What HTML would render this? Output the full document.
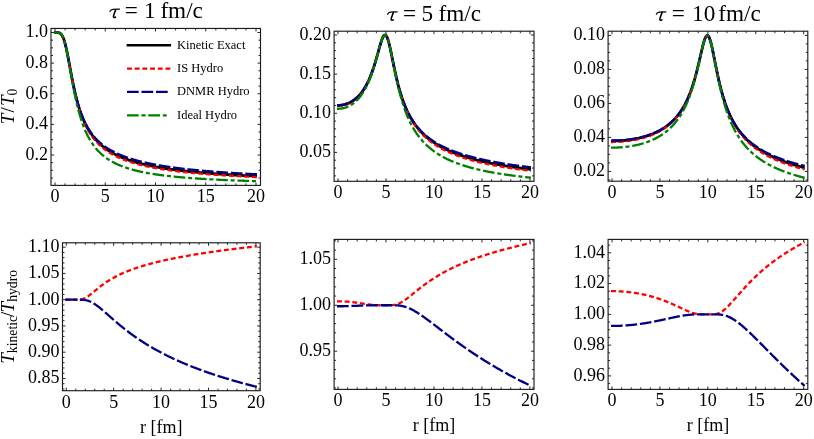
<!DOCTYPE html>
<html><head><meta charset="utf-8"><title>Gubser flow temperature profiles</title>
<style>
html,body{margin:0;padding:0;background:#fff;}
body{width:814px;height:439px;overflow:hidden;position:relative;font-family:"Liberation Serif",serif;}
svg text{font-family:"Liberation Serif",serif;}
</style></head><body>
<svg width="814" height="439" viewBox="0 0 814 439" style="position:absolute;left:0;top:0;display:block;will-change:transform">
<rect x="0" y="0" width="814" height="439" fill="#ffffff"/>
<clipPath id="c0"><rect x="51.0" y="28.45" width="209.5" height="156.95000000000002"/></clipPath>
<g clip-path="url(#c0)" fill="none" stroke-linecap="butt" stroke-linejoin="round">
<path d="M54.00 32.50 L55.00 32.50 L55.50 32.50 L56.01 32.50 L56.51 32.51 L57.01 32.52 L57.51 32.55 L58.02 32.60 L58.52 32.69 L59.02 32.83 L59.52 33.02 L60.02 33.29 L60.53 33.65 L61.03 34.12 L61.53 34.71 L62.04 35.44 L62.54 36.33 L63.04 37.38 L63.54 38.61 L64.05 40.02 L64.55 41.62 L65.05 43.39 L65.55 45.35 L66.06 47.46 L66.56 49.73 L67.06 52.12 L67.56 54.63 L68.06 57.22 L68.57 59.89 L69.07 62.60 L69.57 65.33 L70.08 68.07 L70.58 70.79 L71.08 73.49 L71.58 76.16 L72.09 78.77 L72.59 81.32 L73.09 83.81 L73.59 86.23 L74.09 88.57 L74.60 90.84 L75.10 93.04 L75.60 95.16 L76.11 97.20 L76.61 99.17 L77.11 101.07 L77.61 102.89 L78.12 104.65 L78.62 106.35 L79.12 107.97 L79.62 109.54 L80.12 111.05 L80.63 112.51 L81.13 113.91 L81.63 115.26 L82.14 116.56 L82.64 117.82 L83.14 119.03 L83.64 120.20 L84.15 121.33 L84.65 122.42 L85.15 123.47 L85.65 124.49 L86.16 125.48 L86.66 126.43 L87.16 127.36 L87.66 128.26 L88.17 129.13 L88.67 129.97 L89.17 130.79 L89.67 131.58 L90.18 132.35 L90.68 133.10 L91.18 133.82 L91.68 134.53 L92.19 135.22 L92.69 135.89 L93.19 136.54 L93.69 137.17 L94.20 137.79 L94.70 138.39 L95.20 138.98 L95.70 139.55 L96.21 140.11 L96.71 140.65 L97.21 141.19 L97.71 141.70 L98.22 142.21 L98.72 142.71 L99.22 143.19 L99.72 143.66 L100.22 144.12 L100.73 144.58 L101.23 145.02 L101.73 145.45 L102.24 145.87 L102.74 146.29 L103.24 146.69 L103.74 147.09 L104.25 147.48 L104.75 147.86 L105.25 148.23 L105.75 148.60 L106.26 148.96 L106.76 149.31 L107.26 149.65 L107.76 149.99 L108.27 150.33 L108.77 150.65 L109.27 150.97 L109.77 151.29 L110.28 151.59 L110.78 151.90 L111.28 152.19 L111.78 152.49 L112.28 152.77 L112.79 153.06 L113.29 153.33 L113.79 153.61 L114.30 153.87 L114.80 154.14 L115.30 154.40 L115.80 154.65 L116.31 154.90 L116.81 155.15 L117.31 155.39 L117.81 155.63 L118.32 155.86 L118.82 156.10 L119.32 156.32 L119.82 156.55 L120.33 156.77 L120.83 156.99 L121.33 157.20 L121.83 157.41 L122.34 157.62 L122.84 157.82 L123.34 158.03 L123.84 158.22 L124.35 158.42 L124.85 158.61 L125.35 158.80 L125.85 158.99 L126.36 159.18 L126.86 159.36 L127.36 159.54 L127.86 159.72 L128.37 159.89 L128.87 160.07 L129.37 160.24 L129.87 160.40 L130.38 160.57 L130.88 160.73 L131.38 160.90 L131.88 161.06 L132.38 161.21 L132.89 161.37 L133.39 161.52 L133.89 161.67 L134.40 161.82 L134.90 161.97 L135.40 162.12 L135.90 162.26 L136.41 162.41 L136.91 162.55 L137.41 162.68 L137.91 162.82 L138.42 162.96 L138.92 163.09 L139.42 163.22 L139.92 163.36 L140.43 163.49 L140.93 163.61 L141.43 163.74 L141.93 163.86 L142.44 163.99 L142.94 164.11 L143.44 164.23 L143.94 164.35 L144.44 164.47 L144.95 164.59 L145.45 164.70 L145.95 164.82 L146.45 164.93 L146.96 165.04 L147.46 165.15 L147.96 165.26 L148.47 165.37 L148.97 165.48 L149.47 165.58 L149.97 165.69 L150.48 165.79 L150.98 165.89 L151.48 166.00 L151.98 166.10 L152.49 166.20 L152.99 166.29 L153.49 166.39 L153.99 166.49 L154.50 166.58 L155.00 166.68 L155.50 166.77 L156.00 166.86 L156.51 166.96 L157.01 167.05 L157.51 167.14 L158.01 167.23 L158.52 167.32 L159.02 167.40 L159.52 167.49 L160.02 167.58 L160.53 167.66 L161.03 167.75 L161.53 167.83 L162.03 167.91 L162.54 167.99 L163.04 168.07 L163.54 168.15 L164.04 168.23 L164.55 168.31 L165.05 168.39 L165.55 168.47 L166.05 168.55 L166.56 168.62 L167.06 168.70 L167.56 168.77 L168.06 168.85 L168.56 168.92 L169.07 168.99 L169.57 169.07 L170.07 169.14 L170.57 169.21 L171.08 169.28 L171.58 169.35 L172.08 169.42 L172.59 169.49 L173.09 169.55 L173.59 169.62 L174.09 169.69 L174.60 169.75 L175.10 169.82 L175.60 169.89 L176.10 169.95 L176.61 170.01 L177.11 170.08 L177.61 170.14 L178.11 170.20 L178.62 170.27 L179.12 170.33 L179.62 170.39 L180.12 170.45 L180.62 170.51 L181.13 170.57 L181.63 170.63 L182.13 170.69 L182.64 170.75 L183.14 170.80 L183.64 170.86 L184.14 170.92 L184.65 170.97 L185.15 171.03 L185.65 171.09 L186.15 171.14 L186.66 171.20 L187.16 171.25 L187.66 171.30 L188.16 171.36 L188.67 171.41 L189.17 171.46 L189.67 171.52 L190.17 171.57 L190.68 171.62 L191.18 171.67 L191.68 171.72 L192.18 171.77 L192.69 171.82 L193.19 171.87 L193.69 171.92 L194.19 171.97 L194.70 172.02 L195.20 172.07 L195.70 172.12 L196.20 172.16 L196.71 172.21 L197.21 172.26 L197.71 172.31 L198.21 172.35 L198.72 172.40 L199.22 172.44 L199.72 172.49 L200.22 172.53 L200.73 172.58 L201.23 172.62 L201.73 172.67 L202.23 172.71 L202.74 172.75 L203.24 172.80 L203.74 172.84 L204.24 172.88 L204.75 172.93 L205.25 172.97 L205.75 173.01 L206.25 173.05 L206.76 173.09 L207.26 173.13 L207.76 173.18 L208.26 173.22 L208.77 173.26 L209.27 173.30 L209.77 173.34 L210.27 173.38 L210.78 173.41 L211.28 173.45 L211.78 173.49 L212.28 173.53 L212.79 173.57 L213.29 173.61 L213.79 173.64 L214.29 173.68 L214.80 173.72 L215.30 173.76 L215.80 173.79 L216.30 173.83 L216.81 173.87 L217.31 173.90 L217.81 173.94 L218.31 173.97 L218.82 174.01 L219.32 174.04 L219.82 174.08 L220.32 174.11 L220.83 174.15 L221.33 174.18 L221.83 174.22 L222.33 174.25 L222.84 174.29 L223.34 174.32 L223.84 174.35 L224.34 174.39 L224.85 174.42 L225.35 174.45 L225.85 174.48 L226.35 174.52 L226.86 174.55 L227.36 174.58 L227.86 174.61 L228.36 174.64 L228.87 174.68 L229.37 174.71 L229.87 174.74 L230.37 174.77 L230.88 174.80 L231.38 174.83 L231.88 174.86 L232.38 174.89 L232.89 174.92 L233.39 174.95 L233.89 174.98 L234.39 175.01 L234.90 175.04 L235.40 175.07 L235.90 175.10 L236.40 175.13 L236.91 175.16 L237.41 175.19 L237.91 175.21 L238.41 175.24 L238.92 175.27 L239.42 175.30 L239.92 175.33 L240.42 175.35 L240.93 175.38 L241.43 175.41 L241.93 175.44 L242.43 175.46 L242.94 175.49 L243.44 175.52 L243.94 175.54 L244.44 175.57 L244.95 175.60 L245.45 175.62 L245.95 175.65 L246.45 175.68 L246.96 175.70 L247.46 175.73 L247.96 175.75 L248.46 175.78 L248.97 175.80 L249.47 175.83 L249.97 175.85 L250.47 175.88 L250.98 175.90 L251.48 175.93 L251.98 175.95 L252.48 175.98 L252.99 176.00 L253.49 176.03 L253.99 176.05 L254.49 176.07 L255.00 176.10 L255.50 176.12 L256.00 176.15 L257.00 176.19" stroke="#000000" stroke-width="2.8"/>
<path d="M54.00 32.50 L55.00 32.50 L55.50 32.50 L56.01 32.50 L56.51 32.51 L57.01 32.52 L57.51 32.55 L58.02 32.60 L58.52 32.69 L59.02 32.83 L59.52 33.02 L60.02 33.29 L60.53 33.65 L61.03 34.12 L61.53 34.71 L62.04 35.44 L62.54 36.33 L63.04 37.38 L63.54 38.61 L64.05 40.02 L64.55 41.62 L65.05 43.40 L65.55 45.35 L66.06 47.47 L66.56 49.73 L67.06 52.13 L67.56 54.64 L68.06 57.24 L68.57 59.91 L69.07 62.63 L69.57 65.37 L70.08 68.12 L70.58 70.87 L71.08 73.58 L71.58 76.27 L72.09 78.90 L72.59 81.48 L73.09 83.99 L73.59 86.44 L74.09 88.82 L74.60 91.12 L75.10 93.35 L75.60 95.51 L76.11 97.59 L76.61 99.59 L77.11 101.53 L77.61 103.39 L78.12 105.19 L78.62 106.92 L79.12 108.59 L79.62 110.19 L80.12 111.74 L80.63 113.23 L81.13 114.67 L81.63 116.06 L82.14 117.39 L82.64 118.68 L83.14 119.92 L83.64 121.13 L84.15 122.29 L84.65 123.41 L85.15 124.49 L85.65 125.54 L86.16 126.55 L86.66 127.53 L87.16 128.48 L87.66 129.40 L88.17 130.29 L88.67 131.16 L89.17 131.99 L89.67 132.81 L90.18 133.60 L90.68 134.36 L91.18 135.11 L91.68 135.83 L92.19 136.53 L92.69 137.22 L93.19 137.88 L93.69 138.53 L94.20 139.16 L94.70 139.77 L95.20 140.37 L95.70 140.95 L96.21 141.52 L96.71 142.07 L97.21 142.61 L97.71 143.14 L98.22 143.65 L98.72 144.16 L99.22 144.65 L99.72 145.12 L100.22 145.59 L100.73 146.05 L101.23 146.50 L101.73 146.93 L102.24 147.36 L102.74 147.78 L103.24 148.19 L103.74 148.59 L104.25 148.98 L104.75 149.36 L105.25 149.74 L105.75 150.11 L106.26 150.47 L106.76 150.82 L107.26 151.17 L107.76 151.51 L108.27 151.84 L108.77 152.17 L109.27 152.49 L109.77 152.80 L110.28 153.11 L110.78 153.41 L111.28 153.71 L111.78 154.00 L112.28 154.29 L112.79 154.57 L113.29 154.85 L113.79 155.12 L114.30 155.39 L114.80 155.65 L115.30 155.91 L115.80 156.16 L116.31 156.41 L116.81 156.65 L117.31 156.90 L117.81 157.13 L118.32 157.37 L118.82 157.60 L119.32 157.82 L119.82 158.04 L120.33 158.26 L120.83 158.48 L121.33 158.69 L121.83 158.90 L122.34 159.10 L122.84 159.31 L123.34 159.51 L123.84 159.70 L124.35 159.90 L124.85 160.09 L125.35 160.27 L125.85 160.46 L126.36 160.64 L126.86 160.82 L127.36 161.00 L127.86 161.17 L128.37 161.35 L128.87 161.52 L129.37 161.69 L129.87 161.85 L130.38 162.01 L130.88 162.17 L131.38 162.33 L131.88 162.49 L132.38 162.65 L132.89 162.80 L133.39 162.95 L133.89 163.10 L134.40 163.24 L134.90 163.39 L135.40 163.53 L135.90 163.67 L136.41 163.81 L136.91 163.95 L137.41 164.09 L137.91 164.22 L138.42 164.35 L138.92 164.48 L139.42 164.61 L139.92 164.74 L140.43 164.87 L140.93 164.99 L141.43 165.12 L141.93 165.24 L142.44 165.36 L142.94 165.48 L143.44 165.60 L143.94 165.71 L144.44 165.83 L144.95 165.94 L145.45 166.05 L145.95 166.16 L146.45 166.27 L146.96 166.38 L147.46 166.49 L147.96 166.60 L148.47 166.70 L148.97 166.81 L149.47 166.91 L149.97 167.01 L150.48 167.11 L150.98 167.21 L151.48 167.31 L151.98 167.41 L152.49 167.50 L152.99 167.60 L153.49 167.69 L153.99 167.79 L154.50 167.88 L155.00 167.97 L155.50 168.06 L156.00 168.15 L156.51 168.24 L157.01 168.33 L157.51 168.42 L158.01 168.50 L158.52 168.59 L159.02 168.67 L159.52 168.76 L160.02 168.84 L160.53 168.92 L161.03 169.00 L161.53 169.08 L162.03 169.16 L162.54 169.24 L163.04 169.32 L163.54 169.40 L164.04 169.48 L164.55 169.55 L165.05 169.63 L165.55 169.70 L166.05 169.78 L166.56 169.85 L167.06 169.92 L167.56 170.00 L168.06 170.07 L168.56 170.14 L169.07 170.21 L169.57 170.28 L170.07 170.35 L170.57 170.41 L171.08 170.48 L171.58 170.55 L172.08 170.62 L172.59 170.68 L173.09 170.75 L173.59 170.81 L174.09 170.88 L174.60 170.94 L175.10 171.00 L175.60 171.07 L176.10 171.13 L176.61 171.19 L177.11 171.25 L177.61 171.31 L178.11 171.37 L178.62 171.43 L179.12 171.49 L179.62 171.55 L180.12 171.61 L180.62 171.66 L181.13 171.72 L181.63 171.78 L182.13 171.84 L182.64 171.89 L183.14 171.95 L183.64 172.00 L184.14 172.06 L184.65 172.11 L185.15 172.16 L185.65 172.22 L186.15 172.27 L186.66 172.32 L187.16 172.37 L187.66 172.43 L188.16 172.48 L188.67 172.53 L189.17 172.58 L189.67 172.63 L190.17 172.68 L190.68 172.73 L191.18 172.78 L191.68 172.83 L192.18 172.87 L192.69 172.92 L193.19 172.97 L193.69 173.02 L194.19 173.06 L194.70 173.11 L195.20 173.16 L195.70 173.20 L196.20 173.25 L196.71 173.29 L197.21 173.34 L197.71 173.38 L198.21 173.43 L198.72 173.47 L199.22 173.51 L199.72 173.56 L200.22 173.60 L200.73 173.64 L201.23 173.68 L201.73 173.73 L202.23 173.77 L202.74 173.81 L203.24 173.85 L203.74 173.89 L204.24 173.93 L204.75 173.97 L205.25 174.01 L205.75 174.05 L206.25 174.09 L206.76 174.13 L207.26 174.17 L207.76 174.21 L208.26 174.25 L208.77 174.29 L209.27 174.32 L209.77 174.36 L210.27 174.40 L210.78 174.44 L211.28 174.47 L211.78 174.51 L212.28 174.55 L212.79 174.58 L213.29 174.62 L213.79 174.66 L214.29 174.69 L214.80 174.73 L215.30 174.76 L215.80 174.80 L216.30 174.83 L216.81 174.87 L217.31 174.90 L217.81 174.93 L218.31 174.97 L218.82 175.00 L219.32 175.04 L219.82 175.07 L220.32 175.10 L220.83 175.13 L221.33 175.17 L221.83 175.20 L222.33 175.23 L222.84 175.26 L223.34 175.30 L223.84 175.33 L224.34 175.36 L224.85 175.39 L225.35 175.42 L225.85 175.45 L226.35 175.48 L226.86 175.51 L227.36 175.54 L227.86 175.57 L228.36 175.60 L228.87 175.63 L229.37 175.66 L229.87 175.69 L230.37 175.72 L230.88 175.75 L231.38 175.78 L231.88 175.81 L232.38 175.84 L232.89 175.87 L233.39 175.89 L233.89 175.92 L234.39 175.95 L234.90 175.98 L235.40 176.01 L235.90 176.03 L236.40 176.06 L236.91 176.09 L237.41 176.11 L237.91 176.14 L238.41 176.17 L238.92 176.20 L239.42 176.22 L239.92 176.25 L240.42 176.27 L240.93 176.30 L241.43 176.33 L241.93 176.35 L242.43 176.38 L242.94 176.40 L243.44 176.43 L243.94 176.45 L244.44 176.48 L244.95 176.50 L245.45 176.53 L245.95 176.55 L246.45 176.58 L246.96 176.60 L247.46 176.63 L247.96 176.65 L248.46 176.67 L248.97 176.70 L249.47 176.72 L249.97 176.75 L250.47 176.77 L250.98 176.79 L251.48 176.82 L251.98 176.84 L252.48 176.86 L252.99 176.88 L253.49 176.91 L253.99 176.93 L254.49 176.95 L255.00 176.98 L255.50 177.00 L256.00 177.02 L257.00 177.06" stroke="#ff0000" stroke-width="2.3" stroke-dasharray="4.9 2.8"/>
<path d="M54.00 32.50 L55.00 32.50 L55.50 32.50 L56.01 32.50 L56.51 32.51 L57.01 32.52 L57.51 32.55 L58.02 32.60 L58.52 32.69 L59.02 32.83 L59.52 33.02 L60.02 33.29 L60.53 33.65 L61.03 34.12 L61.53 34.71 L62.04 35.44 L62.54 36.33 L63.04 37.38 L63.54 38.61 L64.05 40.02 L64.55 41.62 L65.05 43.39 L65.55 45.35 L66.06 47.46 L66.56 49.73 L67.06 52.12 L67.56 54.63 L68.06 57.22 L68.57 59.89 L69.07 62.59 L69.57 65.32 L70.08 68.06 L70.58 70.79 L71.08 73.48 L71.58 76.14 L72.09 78.75 L72.59 81.30 L73.09 83.78 L73.59 86.19 L74.09 88.53 L74.60 90.79 L75.10 92.97 L75.60 95.08 L76.11 97.10 L76.61 99.06 L77.11 100.94 L77.61 102.75 L78.12 104.49 L78.62 106.16 L79.12 107.77 L79.62 109.31 L80.12 110.80 L80.63 112.23 L81.13 113.61 L81.63 114.93 L82.14 116.21 L82.64 117.43 L83.14 118.62 L83.64 119.76 L84.15 120.86 L84.65 121.92 L85.15 122.95 L85.65 123.94 L86.16 124.90 L86.66 125.82 L87.16 126.72 L87.66 127.59 L88.17 128.43 L88.67 129.24 L89.17 130.03 L89.67 130.79 L90.18 131.54 L90.68 132.26 L91.18 132.96 L91.68 133.64 L92.19 134.30 L92.69 134.94 L93.19 135.56 L93.69 136.17 L94.20 136.76 L94.70 137.34 L95.20 137.90 L95.70 138.45 L96.21 138.98 L96.71 139.50 L97.21 140.01 L97.71 140.51 L98.22 140.99 L98.72 141.46 L99.22 141.92 L99.72 142.38 L100.22 142.82 L100.73 143.25 L101.23 143.67 L101.73 144.08 L102.24 144.49 L102.74 144.88 L103.24 145.27 L103.74 145.65 L104.25 146.02 L104.75 146.38 L105.25 146.74 L105.75 147.09 L106.26 147.43 L106.76 147.76 L107.26 148.09 L107.76 148.42 L108.27 148.73 L108.77 149.05 L109.27 149.35 L109.77 149.65 L110.28 149.95 L110.78 150.24 L111.28 150.52 L111.78 150.80 L112.28 151.07 L112.79 151.34 L113.29 151.61 L113.79 151.87 L114.30 152.13 L114.80 152.38 L115.30 152.63 L115.80 152.87 L116.31 153.11 L116.81 153.35 L117.31 153.58 L117.81 153.81 L118.32 154.04 L118.82 154.26 L119.32 154.48 L119.82 154.69 L120.33 154.91 L120.83 155.12 L121.33 155.32 L121.83 155.52 L122.34 155.73 L122.84 155.92 L123.34 156.12 L123.84 156.31 L124.35 156.50 L124.85 156.68 L125.35 156.87 L125.85 157.05 L126.36 157.23 L126.86 157.41 L127.36 157.58 L127.86 157.75 L128.37 157.92 L128.87 158.09 L129.37 158.25 L129.87 158.42 L130.38 158.58 L130.88 158.74 L131.38 158.90 L131.88 159.05 L132.38 159.20 L132.89 159.35 L133.39 159.50 L133.89 159.65 L134.40 159.80 L134.90 159.94 L135.40 160.08 L135.90 160.22 L136.41 160.36 L136.91 160.50 L137.41 160.64 L137.91 160.77 L138.42 160.90 L138.92 161.03 L139.42 161.16 L139.92 161.29 L140.43 161.42 L140.93 161.54 L141.43 161.67 L141.93 161.79 L142.44 161.91 L142.94 162.03 L143.44 162.15 L143.94 162.27 L144.44 162.38 L144.95 162.50 L145.45 162.61 L145.95 162.73 L146.45 162.84 L146.96 162.95 L147.46 163.06 L147.96 163.16 L148.47 163.27 L148.97 163.38 L149.47 163.48 L149.97 163.59 L150.48 163.69 L150.98 163.79 L151.48 163.89 L151.98 163.99 L152.49 164.09 L152.99 164.19 L153.49 164.28 L153.99 164.38 L154.50 164.47 L155.00 164.57 L155.50 164.66 L156.00 164.75 L156.51 164.84 L157.01 164.93 L157.51 165.02 L158.01 165.11 L158.52 165.20 L159.02 165.29 L159.52 165.37 L160.02 165.46 L160.53 165.55 L161.03 165.63 L161.53 165.71 L162.03 165.80 L162.54 165.88 L163.04 165.96 L163.54 166.04 L164.04 166.12 L164.55 166.20 L165.05 166.28 L165.55 166.35 L166.05 166.43 L166.56 166.51 L167.06 166.58 L167.56 166.66 L168.06 166.73 L168.56 166.81 L169.07 166.88 L169.57 166.95 L170.07 167.02 L170.57 167.10 L171.08 167.17 L171.58 167.24 L172.08 167.31 L172.59 167.38 L173.09 167.44 L173.59 167.51 L174.09 167.58 L174.60 167.65 L175.10 167.71 L175.60 167.78 L176.10 167.85 L176.61 167.91 L177.11 167.97 L177.61 168.04 L178.11 168.10 L178.62 168.16 L179.12 168.23 L179.62 168.29 L180.12 168.35 L180.62 168.41 L181.13 168.47 L181.63 168.53 L182.13 168.59 L182.64 168.65 L183.14 168.71 L183.64 168.77 L184.14 168.83 L184.65 168.88 L185.15 168.94 L185.65 169.00 L186.15 169.05 L186.66 169.11 L187.16 169.17 L187.66 169.22 L188.16 169.28 L188.67 169.33 L189.17 169.38 L189.67 169.44 L190.17 169.49 L190.68 169.54 L191.18 169.60 L191.68 169.65 L192.18 169.70 L192.69 169.75 L193.19 169.80 L193.69 169.85 L194.19 169.90 L194.70 169.95 L195.20 170.00 L195.70 170.05 L196.20 170.10 L196.71 170.15 L197.21 170.20 L197.71 170.25 L198.21 170.29 L198.72 170.34 L199.22 170.39 L199.72 170.43 L200.22 170.48 L200.73 170.53 L201.23 170.57 L201.73 170.62 L202.23 170.66 L202.74 170.71 L203.24 170.75 L203.74 170.80 L204.24 170.84 L204.75 170.89 L205.25 170.93 L205.75 170.97 L206.25 171.02 L206.76 171.06 L207.26 171.10 L207.76 171.14 L208.26 171.19 L208.77 171.23 L209.27 171.27 L209.77 171.31 L210.27 171.35 L210.78 171.39 L211.28 171.43 L211.78 171.47 L212.28 171.51 L212.79 171.55 L213.29 171.59 L213.79 171.63 L214.29 171.67 L214.80 171.71 L215.30 171.75 L215.80 171.79 L216.30 171.82 L216.81 171.86 L217.31 171.90 L217.81 171.94 L218.31 171.97 L218.82 172.01 L219.32 172.05 L219.82 172.08 L220.32 172.12 L220.83 172.16 L221.33 172.19 L221.83 172.23 L222.33 172.26 L222.84 172.30 L223.34 172.33 L223.84 172.37 L224.34 172.40 L224.85 172.44 L225.35 172.47 L225.85 172.51 L226.35 172.54 L226.86 172.58 L227.36 172.61 L227.86 172.64 L228.36 172.68 L228.87 172.71 L229.37 172.74 L229.87 172.77 L230.37 172.81 L230.88 172.84 L231.38 172.87 L231.88 172.90 L232.38 172.94 L232.89 172.97 L233.39 173.00 L233.89 173.03 L234.39 173.06 L234.90 173.09 L235.40 173.12 L235.90 173.15 L236.40 173.18 L236.91 173.21 L237.41 173.25 L237.91 173.28 L238.41 173.31 L238.92 173.33 L239.42 173.36 L239.92 173.39 L240.42 173.42 L240.93 173.45 L241.43 173.48 L241.93 173.51 L242.43 173.54 L242.94 173.57 L243.44 173.60 L243.94 173.62 L244.44 173.65 L244.95 173.68 L245.45 173.71 L245.95 173.74 L246.45 173.76 L246.96 173.79 L247.46 173.82 L247.96 173.85 L248.46 173.87 L248.97 173.90 L249.47 173.93 L249.97 173.95 L250.47 173.98 L250.98 174.01 L251.48 174.03 L251.98 174.06 L252.48 174.08 L252.99 174.11 L253.49 174.14 L253.99 174.16 L254.49 174.19 L255.00 174.21 L255.50 174.24 L256.00 174.26 L257.00 174.31" stroke="#000084" stroke-width="2.3" stroke-dasharray="11.7 2.8"/>
<path d="M54.00 32.50 L55.00 32.50 L55.50 32.50 L56.01 32.50 L56.51 32.51 L57.01 32.52 L57.51 32.55 L58.02 32.60 L58.52 32.69 L59.02 32.83 L59.52 33.02 L60.02 33.29 L60.53 33.65 L61.03 34.12 L61.53 34.71 L62.04 35.45 L62.54 36.34 L63.04 37.40 L63.54 38.63 L64.05 40.06 L64.55 41.67 L65.05 43.48 L65.55 45.46 L66.06 47.62 L66.56 49.94 L67.06 52.40 L67.56 54.99 L68.06 57.67 L68.57 60.45 L69.07 63.28 L69.57 66.15 L70.08 69.04 L70.58 71.93 L71.08 74.81 L71.58 77.66 L72.09 80.47 L72.59 83.23 L73.09 85.94 L73.59 88.58 L74.09 91.15 L74.60 93.65 L75.10 96.08 L75.60 98.43 L76.11 100.70 L76.61 102.90 L77.11 105.02 L77.61 107.07 L78.12 109.05 L78.62 110.96 L79.12 112.80 L79.62 114.57 L80.12 116.28 L80.63 117.92 L81.13 119.51 L81.63 121.04 L82.14 122.52 L82.64 123.94 L83.14 125.31 L83.64 126.64 L84.15 127.92 L84.65 129.15 L85.15 130.34 L85.65 131.49 L86.16 132.60 L86.66 133.68 L87.16 134.72 L87.66 135.72 L88.17 136.69 L88.67 137.64 L89.17 138.55 L89.67 139.43 L90.18 140.28 L90.68 141.11 L91.18 141.91 L91.68 142.69 L92.19 143.45 L92.69 144.18 L93.19 144.89 L93.69 145.58 L94.20 146.26 L94.70 146.91 L95.20 147.54 L95.70 148.16 L96.21 148.76 L96.71 149.34 L97.21 149.91 L97.71 150.46 L98.22 151.00 L98.72 151.52 L99.22 152.03 L99.72 152.53 L100.22 153.01 L100.73 153.49 L101.23 153.95 L101.73 154.40 L102.24 154.83 L102.74 155.26 L103.24 155.68 L103.74 156.09 L104.25 156.49 L104.75 156.88 L105.25 157.26 L105.75 157.63 L106.26 157.99 L106.76 158.35 L107.26 158.69 L107.76 159.03 L108.27 159.36 L108.77 159.69 L109.27 160.01 L109.77 160.32 L110.28 160.62 L110.78 160.92 L111.28 161.22 L111.78 161.50 L112.28 161.78 L112.79 162.06 L113.29 162.33 L113.79 162.59 L114.30 162.85 L114.80 163.10 L115.30 163.35 L115.80 163.60 L116.31 163.84 L116.81 164.07 L117.31 164.30 L117.81 164.53 L118.32 164.75 L118.82 164.97 L119.32 165.18 L119.82 165.40 L120.33 165.60 L120.83 165.81 L121.33 166.00 L121.83 166.20 L122.34 166.39 L122.84 166.58 L123.34 166.77 L123.84 166.95 L124.35 167.13 L124.85 167.31 L125.35 167.48 L125.85 167.65 L126.36 167.82 L126.86 167.99 L127.36 168.15 L127.86 168.31 L128.37 168.47 L128.87 168.62 L129.37 168.78 L129.87 168.93 L130.38 169.07 L130.88 169.22 L131.38 169.36 L131.88 169.51 L132.38 169.64 L132.89 169.78 L133.39 169.92 L133.89 170.05 L134.40 170.18 L134.90 170.31 L135.40 170.44 L135.90 170.56 L136.41 170.69 L136.91 170.81 L137.41 170.93 L137.91 171.05 L138.42 171.16 L138.92 171.28 L139.42 171.39 L139.92 171.51 L140.43 171.62 L140.93 171.73 L141.43 171.83 L141.93 171.94 L142.44 172.04 L142.94 172.15 L143.44 172.25 L143.94 172.35 L144.44 172.45 L144.95 172.55 L145.45 172.64 L145.95 172.74 L146.45 172.83 L146.96 172.93 L147.46 173.02 L147.96 173.11 L148.47 173.20 L148.97 173.29 L149.47 173.37 L149.97 173.46 L150.48 173.55 L150.98 173.63 L151.48 173.71 L151.98 173.80 L152.49 173.88 L152.99 173.96 L153.49 174.04 L153.99 174.11 L154.50 174.19 L155.00 174.27 L155.50 174.34 L156.00 174.42 L156.51 174.49 L157.01 174.57 L157.51 174.64 L158.01 174.71 L158.52 174.78 L159.02 174.85 L159.52 174.92 L160.02 174.99 L160.53 175.05 L161.03 175.12 L161.53 175.19 L162.03 175.25 L162.54 175.32 L163.04 175.38 L163.54 175.44 L164.04 175.51 L164.55 175.57 L165.05 175.63 L165.55 175.69 L166.05 175.75 L166.56 175.81 L167.06 175.87 L167.56 175.93 L168.06 175.98 L168.56 176.04 L169.07 176.10 L169.57 176.15 L170.07 176.21 L170.57 176.26 L171.08 176.32 L171.58 176.37 L172.08 176.42 L172.59 176.47 L173.09 176.53 L173.59 176.58 L174.09 176.63 L174.60 176.68 L175.10 176.73 L175.60 176.78 L176.10 176.83 L176.61 176.88 L177.11 176.92 L177.61 176.97 L178.11 177.02 L178.62 177.06 L179.12 177.11 L179.62 177.16 L180.12 177.20 L180.62 177.25 L181.13 177.29 L181.63 177.34 L182.13 177.38 L182.64 177.42 L183.14 177.46 L183.64 177.51 L184.14 177.55 L184.65 177.59 L185.15 177.63 L185.65 177.67 L186.15 177.71 L186.66 177.75 L187.16 177.79 L187.66 177.83 L188.16 177.87 L188.67 177.91 L189.17 177.95 L189.67 177.99 L190.17 178.03 L190.68 178.06 L191.18 178.10 L191.68 178.14 L192.18 178.17 L192.69 178.21 L193.19 178.25 L193.69 178.28 L194.19 178.32 L194.70 178.35 L195.20 178.39 L195.70 178.42 L196.20 178.46 L196.71 178.49 L197.21 178.52 L197.71 178.56 L198.21 178.59 L198.72 178.62 L199.22 178.65 L199.72 178.69 L200.22 178.72 L200.73 178.75 L201.23 178.78 L201.73 178.81 L202.23 178.84 L202.74 178.88 L203.24 178.91 L203.74 178.94 L204.24 178.97 L204.75 179.00 L205.25 179.03 L205.75 179.05 L206.25 179.08 L206.76 179.11 L207.26 179.14 L207.76 179.17 L208.26 179.20 L208.77 179.23 L209.27 179.25 L209.77 179.28 L210.27 179.31 L210.78 179.34 L211.28 179.36 L211.78 179.39 L212.28 179.42 L212.79 179.44 L213.29 179.47 L213.79 179.49 L214.29 179.52 L214.80 179.55 L215.30 179.57 L215.80 179.60 L216.30 179.62 L216.81 179.65 L217.31 179.67 L217.81 179.70 L218.31 179.72 L218.82 179.74 L219.32 179.77 L219.82 179.79 L220.32 179.82 L220.83 179.84 L221.33 179.86 L221.83 179.88 L222.33 179.91 L222.84 179.93 L223.34 179.95 L223.84 179.98 L224.34 180.00 L224.85 180.02 L225.35 180.04 L225.85 180.06 L226.35 180.09 L226.86 180.11 L227.36 180.13 L227.86 180.15 L228.36 180.17 L228.87 180.19 L229.37 180.21 L229.87 180.23 L230.37 180.25 L230.88 180.28 L231.38 180.30 L231.88 180.32 L232.38 180.34 L232.89 180.36 L233.39 180.38 L233.89 180.40 L234.39 180.41 L234.90 180.43 L235.40 180.45 L235.90 180.47 L236.40 180.49 L236.91 180.51 L237.41 180.53 L237.91 180.55 L238.41 180.57 L238.92 180.58 L239.42 180.60 L239.92 180.62 L240.42 180.64 L240.93 180.66 L241.43 180.68 L241.93 180.69 L242.43 180.71 L242.94 180.73 L243.44 180.75 L243.94 180.76 L244.44 180.78 L244.95 180.80 L245.45 180.81 L245.95 180.83 L246.45 180.85 L246.96 180.86 L247.46 180.88 L247.96 180.90 L248.46 180.91 L248.97 180.93 L249.47 180.95 L249.97 180.96 L250.47 180.98 L250.98 180.99 L251.48 181.01 L251.98 181.03 L252.48 181.04 L252.99 181.06 L253.49 181.07 L253.99 181.09 L254.49 181.10 L255.00 181.12 L255.50 181.13 L256.00 181.15 L257.00 181.18" stroke="#008000" stroke-width="2.3" stroke-dasharray="11.7 2.8 4 2.8"/>
</g>
<path d="M55.00 185.4 v-3.0 M55.00 28.45 v3.0 M65.05 185.4 v-2.0 M65.05 28.45 v2.0 M75.10 185.4 v-2.0 M75.10 28.45 v2.0 M85.15 185.4 v-2.0 M85.15 28.45 v2.0 M95.20 185.4 v-2.0 M95.20 28.45 v2.0 M105.25 185.4 v-3.0 M105.25 28.45 v3.0 M115.30 185.4 v-2.0 M115.30 28.45 v2.0 M125.35 185.4 v-2.0 M125.35 28.45 v2.0 M135.40 185.4 v-2.0 M135.40 28.45 v2.0 M145.45 185.4 v-2.0 M145.45 28.45 v2.0 M155.50 185.4 v-3.0 M155.50 28.45 v3.0 M165.55 185.4 v-2.0 M165.55 28.45 v2.0 M175.60 185.4 v-2.0 M175.60 28.45 v2.0 M185.65 185.4 v-2.0 M185.65 28.45 v2.0 M195.70 185.4 v-2.0 M195.70 28.45 v2.0 M205.75 185.4 v-3.0 M205.75 28.45 v3.0 M215.80 185.4 v-2.0 M215.80 28.45 v2.0 M225.85 185.4 v-2.0 M225.85 28.45 v2.0 M235.90 185.4 v-2.0 M235.90 28.45 v2.0 M245.95 185.4 v-2.0 M245.95 28.45 v2.0 M256.00 185.4 v-3.0 M256.00 28.45 v3.0 M51.0 177.97 h2.0 M260.5 177.97 h-2.0 M51.0 170.31 h2.0 M260.5 170.31 h-2.0 M51.0 162.66 h2.0 M260.5 162.66 h-2.0 M51.0 155.00 h3.0 M260.5 155.00 h-3.0 M51.0 147.34 h2.0 M260.5 147.34 h-2.0 M51.0 139.69 h2.0 M260.5 139.69 h-2.0 M51.0 132.03 h2.0 M260.5 132.03 h-2.0 M51.0 124.38 h3.0 M260.5 124.38 h-3.0 M51.0 116.72 h2.0 M260.5 116.72 h-2.0 M51.0 109.06 h2.0 M260.5 109.06 h-2.0 M51.0 101.41 h2.0 M260.5 101.41 h-2.0 M51.0 93.75 h3.0 M260.5 93.75 h-3.0 M51.0 86.09 h2.0 M260.5 86.09 h-2.0 M51.0 78.44 h2.0 M260.5 78.44 h-2.0 M51.0 70.78 h2.0 M260.5 70.78 h-2.0 M51.0 63.12 h3.0 M260.5 63.12 h-3.0 M51.0 55.47 h2.0 M260.5 55.47 h-2.0 M51.0 47.81 h2.0 M260.5 47.81 h-2.0 M51.0 40.16 h2.0 M260.5 40.16 h-2.0 M51.0 32.50 h3.0 M260.5 32.50 h-3.0" stroke="#1c1c1c" stroke-width="0.95" fill="none"/>
<rect x="51.0" y="28.45" width="209.50" height="156.95" fill="none" stroke="#1c1c1c" stroke-width="1.15"/>
<g font-family="Liberation Serif, serif" font-size="18" fill="#000"><text x="48.0" y="159.80" text-anchor="end">0.2</text><text x="48.0" y="129.18" text-anchor="end">0.4</text><text x="48.0" y="98.55" text-anchor="end">0.6</text><text x="48.0" y="67.92" text-anchor="end">0.8</text><text x="48.0" y="37.30" text-anchor="end">1.0</text><text x="55.00" y="201.90" text-anchor="middle">0</text><text x="105.25" y="201.90" text-anchor="middle">5</text><text x="155.50" y="201.90" text-anchor="middle">10</text><text x="205.75" y="201.90" text-anchor="middle">15</text><text x="256.00" y="201.90" text-anchor="middle">20</text></g>
<g transform="translate(109.80,18.15)" fill="none" stroke="#000" stroke-linecap="round" stroke-linejoin="round"><path d="M0.1 -6.6 C0.7 -8.0 1.6 -8.7 3.0 -8.75 L9.7 -9.05" stroke-width="1.15"/><path d="M5.9 -8.7 C5.3 -6.6 4.3 -4.2 3.75 -2.3 C3.3 -0.7 4.3 -0.1 5.7 -1.0" stroke-width="1.55"/></g>
<text x="202.90" y="18.15" text-anchor="end" word-spacing="-0.3" font-family="Liberation Serif, serif" font-size="23.2" fill="#000">= <tspan dx="0.6">1</tspan><tspan dx="-0.6"> fm/c</tspan></text>
<clipPath id="c1"><rect x="334.1" y="31.2" width="199.89999999999998" height="150.10000000000002"/></clipPath>
<g clip-path="url(#c1)" fill="none" stroke-linecap="butt" stroke-linejoin="round">
<path d="M337.00 105.38 L338.00 105.38 L338.48 105.37 L338.96 105.36 L339.44 105.33 L339.92 105.30 L340.40 105.26 L340.88 105.21 L341.36 105.16 L341.84 105.09 L342.32 105.01 L342.80 104.92 L343.28 104.83 L343.76 104.72 L344.24 104.61 L344.72 104.49 L345.20 104.35 L345.68 104.21 L346.16 104.06 L346.64 103.89 L347.12 103.72 L347.60 103.54 L348.08 103.34 L348.56 103.14 L349.04 102.92 L349.52 102.69 L350.00 102.45 L350.48 102.21 L350.96 101.94 L351.44 101.67 L351.92 101.38 L352.40 101.09 L352.88 100.78 L353.36 100.45 L353.84 100.11 L354.32 99.76 L354.80 99.40 L355.28 99.02 L355.76 98.62 L356.24 98.21 L356.72 97.79 L357.19 97.35 L357.67 96.89 L358.15 96.41 L358.63 95.92 L359.11 95.41 L359.59 94.88 L360.07 94.33 L360.55 93.76 L361.03 93.18 L361.51 92.57 L361.99 91.93 L362.47 91.28 L362.95 90.60 L363.43 89.90 L363.91 89.17 L364.39 88.42 L364.87 87.64 L365.35 86.83 L365.83 85.99 L366.31 85.12 L366.79 84.23 L367.27 83.30 L367.75 82.33 L368.23 81.34 L368.71 80.31 L369.19 79.24 L369.67 78.13 L370.15 76.99 L370.63 75.81 L371.11 74.59 L371.59 73.33 L372.07 72.02 L372.55 70.68 L373.03 69.29 L373.51 67.86 L373.99 66.39 L374.47 64.87 L374.95 63.32 L375.43 61.73 L375.91 60.10 L376.39 58.44 L376.87 56.75 L377.35 55.04 L377.83 53.31 L378.31 51.58 L378.79 49.85 L379.27 48.13 L379.75 46.44 L380.23 44.79 L380.71 43.20 L381.19 41.69 L381.67 40.28 L382.15 38.99 L382.63 37.84 L383.11 36.86 L383.59 36.06 L384.07 35.48 L384.55 35.12 L385.03 35.00 L385.51 35.13 L385.99 35.52 L386.47 36.16 L386.95 37.05 L387.43 38.18 L387.91 39.53 L388.39 41.09 L388.87 42.83 L389.35 44.72 L389.83 46.75 L390.31 48.89 L390.79 51.11 L391.27 53.40 L391.75 55.73 L392.23 58.08 L392.71 60.44 L393.19 62.79 L393.67 65.13 L394.15 67.43 L394.63 69.70 L395.11 71.92 L395.59 74.10 L396.06 76.23 L396.54 78.30 L397.02 80.31 L397.50 82.27 L397.98 84.16 L398.46 86.01 L398.94 87.79 L399.42 89.52 L399.90 91.19 L400.38 92.82 L400.86 94.38 L401.34 95.90 L401.82 97.37 L402.30 98.80 L402.78 100.18 L403.26 101.51 L403.74 102.80 L404.22 104.06 L404.70 105.27 L405.18 106.45 L405.66 107.59 L406.14 108.70 L406.62 109.77 L407.10 110.82 L407.58 111.83 L408.06 112.81 L408.54 113.77 L409.02 114.70 L409.50 115.61 L409.98 116.49 L410.46 117.34 L410.94 118.18 L411.42 118.99 L411.90 119.78 L412.38 120.55 L412.86 121.31 L413.34 122.04 L413.82 122.76 L414.30 123.46 L414.78 124.14 L415.26 124.81 L415.74 125.46 L416.22 126.09 L416.70 126.72 L417.18 127.32 L417.66 127.92 L418.14 128.50 L418.62 129.07 L419.10 129.63 L419.58 130.18 L420.06 130.71 L420.54 131.24 L421.02 131.75 L421.50 132.25 L421.98 132.75 L422.46 133.23 L422.94 133.71 L423.42 134.17 L423.90 134.63 L424.38 135.08 L424.86 135.52 L425.34 135.96 L425.82 136.38 L426.30 136.80 L426.78 137.21 L427.26 137.61 L427.74 138.01 L428.22 138.40 L428.70 138.78 L429.18 139.16 L429.66 139.53 L430.14 139.90 L430.62 140.26 L431.10 140.61 L431.58 140.96 L432.06 141.30 L432.54 141.64 L433.02 141.97 L433.50 142.30 L433.98 142.62 L434.45 142.94 L434.93 143.25 L435.41 143.56 L435.89 143.86 L436.37 144.16 L436.85 144.46 L437.33 144.75 L437.81 145.04 L438.29 145.32 L438.77 145.60 L439.25 145.87 L439.73 146.15 L440.21 146.41 L440.69 146.68 L441.17 146.94 L441.65 147.20 L442.13 147.45 L442.61 147.70 L443.09 147.95 L443.57 148.20 L444.05 148.44 L444.53 148.68 L445.01 148.91 L445.49 149.15 L445.97 149.38 L446.45 149.61 L446.93 149.83 L447.41 150.05 L447.89 150.27 L448.37 150.49 L448.85 150.70 L449.33 150.92 L449.81 151.13 L450.29 151.33 L450.77 151.54 L451.25 151.74 L451.73 151.94 L452.21 152.14 L452.69 152.34 L453.17 152.53 L453.65 152.72 L454.13 152.91 L454.61 153.10 L455.09 153.28 L455.57 153.47 L456.05 153.65 L456.53 153.83 L457.01 154.01 L457.49 154.18 L457.97 154.36 L458.45 154.53 L458.93 154.70 L459.41 154.87 L459.89 155.04 L460.37 155.21 L460.85 155.37 L461.33 155.53 L461.81 155.69 L462.29 155.85 L462.77 156.01 L463.25 156.17 L463.73 156.32 L464.21 156.48 L464.69 156.63 L465.17 156.78 L465.65 156.93 L466.13 157.08 L466.61 157.22 L467.09 157.37 L467.57 157.51 L468.05 157.66 L468.53 157.80 L469.01 157.94 L469.49 158.08 L469.97 158.21 L470.45 158.35 L470.93 158.49 L471.41 158.62 L471.89 158.75 L472.37 158.88 L472.84 159.02 L473.32 159.14 L473.80 159.27 L474.28 159.40 L474.76 159.53 L475.24 159.65 L475.72 159.78 L476.20 159.90 L476.68 160.02 L477.16 160.14 L477.64 160.26 L478.12 160.38 L478.60 160.50 L479.08 160.62 L479.56 160.73 L480.04 160.85 L480.52 160.96 L481.00 161.08 L481.48 161.19 L481.96 161.30 L482.44 161.41 L482.92 161.52 L483.40 161.63 L483.88 161.74 L484.36 161.85 L484.84 161.95 L485.32 162.06 L485.80 162.17 L486.28 162.27 L486.76 162.37 L487.24 162.48 L487.72 162.58 L488.20 162.68 L488.68 162.78 L489.16 162.88 L489.64 162.98 L490.12 163.08 L490.60 163.17 L491.08 163.27 L491.56 163.37 L492.04 163.46 L492.52 163.56 L493.00 163.65 L493.48 163.75 L493.96 163.84 L494.44 163.93 L494.92 164.02 L495.40 164.11 L495.88 164.20 L496.36 164.29 L496.84 164.38 L497.32 164.47 L497.80 164.56 L498.28 164.65 L498.76 164.73 L499.24 164.82 L499.72 164.90 L500.20 164.99 L500.68 165.07 L501.16 165.16 L501.64 165.24 L502.12 165.32 L502.60 165.41 L503.08 165.49 L503.56 165.57 L504.04 165.65 L504.52 165.73 L505.00 165.81 L505.48 165.89 L505.96 165.97 L506.44 166.04 L506.92 166.12 L507.40 166.20 L507.88 166.28 L508.36 166.35 L508.84 166.43 L509.32 166.50 L509.80 166.58 L510.28 166.65 L510.75 166.73 L511.23 166.80 L511.71 166.87 L512.19 166.94 L512.67 167.02 L513.15 167.09 L513.63 167.16 L514.11 167.23 L514.59 167.30 L515.07 167.37 L515.55 167.44 L516.03 167.51 L516.51 167.58 L516.99 167.64 L517.47 167.71 L517.95 167.78 L518.43 167.85 L518.91 167.91 L519.39 167.98 L519.87 168.04 L520.35 168.11 L520.83 168.18 L521.31 168.24 L521.79 168.30 L522.27 168.37 L522.75 168.43 L523.23 168.49 L523.71 168.56 L524.19 168.62 L524.67 168.68 L525.15 168.74 L525.63 168.81 L526.11 168.87 L526.59 168.93 L527.07 168.99 L527.55 169.05 L528.03 169.11 L528.51 169.17 L528.99 169.23 L529.47 169.29 L529.95 169.34 L530.95 169.47" stroke="#000000" stroke-width="2.8"/>
<path d="M337.00 105.74 L338.00 105.74 L338.48 105.74 L338.96 105.72 L339.44 105.70 L339.92 105.67 L340.40 105.63 L340.88 105.58 L341.36 105.52 L341.84 105.45 L342.32 105.37 L342.80 105.29 L343.28 105.19 L343.76 105.08 L344.24 104.97 L344.72 104.84 L345.20 104.70 L345.68 104.56 L346.16 104.40 L346.64 104.24 L347.12 104.06 L347.60 103.88 L348.08 103.68 L348.56 103.47 L349.04 103.25 L349.52 103.02 L350.00 102.78 L350.48 102.53 L350.96 102.26 L351.44 101.98 L351.92 101.69 L352.40 101.39 L352.88 101.08 L353.36 100.75 L353.84 100.41 L354.32 100.05 L354.80 99.68 L355.28 99.30 L355.76 98.90 L356.24 98.48 L356.72 98.05 L357.19 97.60 L357.67 97.14 L358.15 96.66 L358.63 96.16 L359.11 95.64 L359.59 95.11 L360.07 94.55 L360.55 93.98 L361.03 93.38 L361.51 92.77 L361.99 92.13 L362.47 91.47 L362.95 90.78 L363.43 90.07 L363.91 89.34 L364.39 88.58 L364.87 87.79 L365.35 86.97 L365.83 86.13 L366.31 85.25 L366.79 84.35 L367.27 83.41 L367.75 82.44 L368.23 81.44 L368.71 80.40 L369.19 79.33 L369.67 78.22 L370.15 77.07 L370.63 75.88 L371.11 74.65 L371.59 73.38 L372.07 72.07 L372.55 70.72 L373.03 69.33 L373.51 67.89 L373.99 66.42 L374.47 64.90 L374.95 63.34 L375.43 61.75 L375.91 60.12 L376.39 58.45 L376.87 56.76 L377.35 55.05 L377.83 53.32 L378.31 51.58 L378.79 49.85 L379.27 48.13 L379.75 46.44 L380.23 44.79 L380.71 43.20 L381.19 41.69 L381.67 40.28 L382.15 38.99 L382.63 37.84 L383.11 36.86 L383.59 36.06 L384.07 35.48 L384.55 35.12 L385.03 35.00 L385.51 35.13 L385.99 35.52 L386.47 36.16 L386.95 37.05 L387.43 38.18 L387.91 39.53 L388.39 41.09 L388.87 42.83 L389.35 44.72 L389.83 46.75 L390.31 48.89 L390.79 51.12 L391.27 53.41 L391.75 55.74 L392.23 58.09 L392.71 60.46 L393.19 62.82 L393.67 65.16 L394.15 67.47 L394.63 69.75 L395.11 71.99 L395.59 74.18 L396.06 76.31 L396.54 78.40 L397.02 80.43 L397.50 82.40 L397.98 84.32 L398.46 86.18 L398.94 87.98 L399.42 89.73 L399.90 91.43 L400.38 93.07 L400.86 94.67 L401.34 96.21 L401.82 97.70 L402.30 99.15 L402.78 100.55 L403.26 101.91 L403.74 103.23 L404.22 104.51 L404.70 105.74 L405.18 106.95 L405.66 108.11 L406.14 109.24 L406.62 110.34 L407.10 111.41 L407.58 112.45 L408.06 113.46 L408.54 114.44 L409.02 115.39 L409.50 116.32 L409.98 117.22 L410.46 118.10 L410.94 118.95 L411.42 119.79 L411.90 120.60 L412.38 121.39 L412.86 122.17 L413.34 122.92 L413.82 123.65 L414.30 124.37 L414.78 125.07 L415.26 125.76 L415.74 126.43 L416.22 127.08 L416.70 127.72 L417.18 128.35 L417.66 128.96 L418.14 129.56 L418.62 130.14 L419.10 130.71 L419.58 131.28 L420.06 131.82 L420.54 132.36 L421.02 132.89 L421.50 133.41 L421.98 133.91 L422.46 134.41 L422.94 134.90 L423.42 135.38 L423.90 135.85 L424.38 136.31 L424.86 136.76 L425.34 137.20 L425.82 137.64 L426.30 138.07 L426.78 138.49 L427.26 138.90 L427.74 139.31 L428.22 139.71 L428.70 140.10 L429.18 140.48 L429.66 140.86 L430.14 141.24 L430.62 141.60 L431.10 141.97 L431.58 142.32 L432.06 142.67 L432.54 143.01 L433.02 143.35 L433.50 143.69 L433.98 144.02 L434.45 144.34 L434.93 144.66 L435.41 144.97 L435.89 145.28 L436.37 145.59 L436.85 145.89 L437.33 146.18 L437.81 146.48 L438.29 146.77 L438.77 147.05 L439.25 147.33 L439.73 147.61 L440.21 147.88 L440.69 148.15 L441.17 148.41 L441.65 148.67 L442.13 148.93 L442.61 149.19 L443.09 149.44 L443.57 149.69 L444.05 149.93 L444.53 150.17 L445.01 150.41 L445.49 150.65 L445.97 150.88 L446.45 151.11 L446.93 151.34 L447.41 151.57 L447.89 151.79 L448.37 152.01 L448.85 152.22 L449.33 152.44 L449.81 152.65 L450.29 152.86 L450.77 153.06 L451.25 153.27 L451.73 153.47 L452.21 153.67 L452.69 153.87 L453.17 154.06 L453.65 154.26 L454.13 154.45 L454.61 154.64 L455.09 154.82 L455.57 155.01 L456.05 155.19 L456.53 155.37 L457.01 155.55 L457.49 155.73 L457.97 155.90 L458.45 156.08 L458.93 156.25 L459.41 156.42 L459.89 156.59 L460.37 156.75 L460.85 156.92 L461.33 157.08 L461.81 157.24 L462.29 157.40 L462.77 157.56 L463.25 157.72 L463.73 157.87 L464.21 158.03 L464.69 158.18 L465.17 158.33 L465.65 158.48 L466.13 158.63 L466.61 158.77 L467.09 158.92 L467.57 159.06 L468.05 159.21 L468.53 159.35 L469.01 159.49 L469.49 159.63 L469.97 159.76 L470.45 159.90 L470.93 160.03 L471.41 160.17 L471.89 160.30 L472.37 160.43 L472.84 160.56 L473.32 160.69 L473.80 160.82 L474.28 160.95 L474.76 161.07 L475.24 161.20 L475.72 161.32 L476.20 161.44 L476.68 161.56 L477.16 161.68 L477.64 161.80 L478.12 161.92 L478.60 162.04 L479.08 162.16 L479.56 162.27 L480.04 162.39 L480.52 162.50 L481.00 162.61 L481.48 162.72 L481.96 162.84 L482.44 162.95 L482.92 163.05 L483.40 163.16 L483.88 163.27 L484.36 163.38 L484.84 163.48 L485.32 163.59 L485.80 163.69 L486.28 163.79 L486.76 163.90 L487.24 164.00 L487.72 164.10 L488.20 164.20 L488.68 164.30 L489.16 164.40 L489.64 164.50 L490.12 164.59 L490.60 164.69 L491.08 164.79 L491.56 164.88 L492.04 164.98 L492.52 165.07 L493.00 165.16 L493.48 165.25 L493.96 165.35 L494.44 165.44 L494.92 165.53 L495.40 165.62 L495.88 165.71 L496.36 165.79 L496.84 165.88 L497.32 165.97 L497.80 166.06 L498.28 166.14 L498.76 166.23 L499.24 166.31 L499.72 166.40 L500.20 166.48 L500.68 166.56 L501.16 166.65 L501.64 166.73 L502.12 166.81 L502.60 166.89 L503.08 166.97 L503.56 167.05 L504.04 167.13 L504.52 167.21 L505.00 167.29 L505.48 167.36 L505.96 167.44 L506.44 167.52 L506.92 167.59 L507.40 167.67 L507.88 167.74 L508.36 167.82 L508.84 167.89 L509.32 167.97 L509.80 168.04 L510.28 168.11 L510.75 168.19 L511.23 168.26 L511.71 168.33 L512.19 168.40 L512.67 168.47 L513.15 168.54 L513.63 168.61 L514.11 168.68 L514.59 168.75 L515.07 168.82 L515.55 168.88 L516.03 168.95 L516.51 169.02 L516.99 169.09 L517.47 169.15 L517.95 169.22 L518.43 169.28 L518.91 169.35 L519.39 169.41 L519.87 169.48 L520.35 169.54 L520.83 169.61 L521.31 169.67 L521.79 169.73 L522.27 169.79 L522.75 169.86 L523.23 169.92 L523.71 169.98 L524.19 170.04 L524.67 170.10 L525.15 170.16 L525.63 170.22 L526.11 170.28 L526.59 170.34 L527.07 170.40 L527.55 170.46 L528.03 170.52 L528.51 170.57 L528.99 170.63 L529.47 170.69 L529.95 170.75 L530.95 170.87" stroke="#ff0000" stroke-width="2.3" stroke-dasharray="4.9 2.8"/>
<path d="M337.00 105.28 L338.00 105.28 L338.48 105.27 L338.96 105.26 L339.44 105.24 L339.92 105.21 L340.40 105.17 L340.88 105.12 L341.36 105.06 L341.84 104.99 L342.32 104.92 L342.80 104.83 L343.28 104.74 L343.76 104.63 L344.24 104.52 L344.72 104.40 L345.20 104.26 L345.68 104.12 L346.16 103.97 L346.64 103.81 L347.12 103.63 L347.60 103.45 L348.08 103.26 L348.56 103.05 L349.04 102.84 L349.52 102.61 L350.00 102.38 L350.48 102.13 L350.96 101.87 L351.44 101.60 L351.92 101.31 L352.40 101.02 L352.88 100.71 L353.36 100.38 L353.84 100.05 L354.32 99.70 L354.80 99.34 L355.28 98.96 L355.76 98.56 L356.24 98.16 L356.72 97.73 L357.19 97.29 L357.67 96.84 L358.15 96.36 L358.63 95.87 L359.11 95.36 L359.59 94.84 L360.07 94.29 L360.55 93.72 L361.03 93.14 L361.51 92.53 L361.99 91.90 L362.47 91.24 L362.95 90.57 L363.43 89.87 L363.91 89.14 L364.39 88.39 L364.87 87.61 L365.35 86.80 L365.83 85.97 L366.31 85.10 L366.79 84.21 L367.27 83.28 L367.75 82.32 L368.23 81.32 L368.71 80.29 L369.19 79.23 L369.67 78.12 L370.15 76.98 L370.63 75.80 L371.11 74.58 L371.59 73.32 L372.07 72.02 L372.55 70.67 L373.03 69.29 L373.51 67.86 L373.99 66.38 L374.47 64.87 L374.95 63.32 L375.43 61.73 L375.91 60.10 L376.39 58.44 L376.87 56.75 L377.35 55.04 L377.83 53.31 L378.31 51.58 L378.79 49.85 L379.27 48.13 L379.75 46.44 L380.23 44.79 L380.71 43.20 L381.19 41.69 L381.67 40.28 L382.15 38.99 L382.63 37.84 L383.11 36.86 L383.59 36.06 L384.07 35.48 L384.55 35.12 L385.03 35.00 L385.51 35.13 L385.99 35.52 L386.47 36.16 L386.95 37.05 L387.43 38.18 L387.91 39.53 L388.39 41.09 L388.87 42.83 L389.35 44.72 L389.83 46.75 L390.31 48.89 L390.79 51.11 L391.27 53.40 L391.75 55.73 L392.23 58.08 L392.71 60.44 L393.19 62.79 L393.67 65.12 L394.15 67.43 L394.63 69.70 L395.11 71.92 L395.59 74.09 L396.06 76.22 L396.54 78.28 L397.02 80.29 L397.50 82.25 L397.98 84.14 L398.46 85.98 L398.94 87.76 L399.42 89.48 L399.90 91.15 L400.38 92.76 L400.86 94.33 L401.34 95.84 L401.82 97.30 L402.30 98.71 L402.78 100.08 L403.26 101.41 L403.74 102.69 L404.22 103.93 L404.70 105.14 L405.18 106.30 L405.66 107.43 L406.14 108.53 L406.62 109.59 L407.10 110.62 L407.58 111.62 L408.06 112.59 L408.54 113.54 L409.02 114.45 L409.50 115.34 L409.98 116.21 L410.46 117.05 L410.94 117.87 L411.42 118.67 L411.90 119.44 L412.38 120.20 L412.86 120.94 L413.34 121.65 L413.82 122.35 L414.30 123.04 L414.78 123.70 L415.26 124.35 L415.74 124.99 L416.22 125.61 L416.70 126.22 L417.18 126.81 L417.66 127.39 L418.14 127.95 L418.62 128.51 L419.10 129.05 L419.58 129.58 L420.06 130.10 L420.54 130.61 L421.02 131.10 L421.50 131.59 L421.98 132.07 L422.46 132.54 L422.94 133.00 L423.42 133.45 L423.90 133.89 L424.38 134.32 L424.86 134.75 L425.34 135.17 L425.82 135.58 L426.30 135.98 L426.78 136.37 L427.26 136.76 L427.74 137.14 L428.22 137.52 L428.70 137.89 L429.18 138.25 L429.66 138.61 L430.14 138.96 L430.62 139.30 L431.10 139.64 L431.58 139.98 L432.06 140.30 L432.54 140.63 L433.02 140.95 L433.50 141.26 L433.98 141.57 L434.45 141.87 L434.93 142.17 L435.41 142.47 L435.89 142.76 L436.37 143.05 L436.85 143.33 L437.33 143.61 L437.81 143.88 L438.29 144.15 L438.77 144.42 L439.25 144.68 L439.73 144.94 L440.21 145.20 L440.69 145.45 L441.17 145.70 L441.65 145.95 L442.13 146.19 L442.61 146.43 L443.09 146.67 L443.57 146.90 L444.05 147.13 L444.53 147.36 L445.01 147.59 L445.49 147.81 L445.97 148.03 L446.45 148.25 L446.93 148.46 L447.41 148.67 L447.89 148.88 L448.37 149.09 L448.85 149.29 L449.33 149.50 L449.81 149.70 L450.29 149.89 L450.77 150.09 L451.25 150.28 L451.73 150.47 L452.21 150.66 L452.69 150.85 L453.17 151.04 L453.65 151.22 L454.13 151.40 L454.61 151.58 L455.09 151.76 L455.57 151.93 L456.05 152.11 L456.53 152.28 L457.01 152.45 L457.49 152.62 L457.97 152.78 L458.45 152.95 L458.93 153.11 L459.41 153.27 L459.89 153.43 L460.37 153.59 L460.85 153.75 L461.33 153.90 L461.81 154.06 L462.29 154.21 L462.77 154.36 L463.25 154.51 L463.73 154.66 L464.21 154.80 L464.69 154.95 L465.17 155.09 L465.65 155.24 L466.13 155.38 L466.61 155.52 L467.09 155.66 L467.57 155.80 L468.05 155.93 L468.53 156.07 L469.01 156.20 L469.49 156.33 L469.97 156.47 L470.45 156.60 L470.93 156.73 L471.41 156.85 L471.89 156.98 L472.37 157.11 L472.84 157.23 L473.32 157.36 L473.80 157.48 L474.28 157.60 L474.76 157.72 L475.24 157.84 L475.72 157.96 L476.20 158.08 L476.68 158.20 L477.16 158.31 L477.64 158.43 L478.12 158.54 L478.60 158.66 L479.08 158.77 L479.56 158.88 L480.04 158.99 L480.52 159.10 L481.00 159.21 L481.48 159.32 L481.96 159.43 L482.44 159.53 L482.92 159.64 L483.40 159.74 L483.88 159.85 L484.36 159.95 L484.84 160.05 L485.32 160.16 L485.80 160.26 L486.28 160.36 L486.76 160.46 L487.24 160.56 L487.72 160.65 L488.20 160.75 L488.68 160.85 L489.16 160.94 L489.64 161.04 L490.12 161.13 L490.60 161.23 L491.08 161.32 L491.56 161.42 L492.04 161.51 L492.52 161.60 L493.00 161.69 L493.48 161.78 L493.96 161.87 L494.44 161.96 L494.92 162.05 L495.40 162.14 L495.88 162.22 L496.36 162.31 L496.84 162.40 L497.32 162.48 L497.80 162.57 L498.28 162.65 L498.76 162.73 L499.24 162.82 L499.72 162.90 L500.20 162.98 L500.68 163.06 L501.16 163.14 L501.64 163.23 L502.12 163.31 L502.60 163.39 L503.08 163.46 L503.56 163.54 L504.04 163.62 L504.52 163.70 L505.00 163.78 L505.48 163.85 L505.96 163.93 L506.44 164.00 L506.92 164.08 L507.40 164.15 L507.88 164.23 L508.36 164.30 L508.84 164.38 L509.32 164.45 L509.80 164.52 L510.28 164.59 L510.75 164.67 L511.23 164.74 L511.71 164.81 L512.19 164.88 L512.67 164.95 L513.15 165.02 L513.63 165.09 L514.11 165.16 L514.59 165.22 L515.07 165.29 L515.55 165.36 L516.03 165.43 L516.51 165.49 L516.99 165.56 L517.47 165.63 L517.95 165.69 L518.43 165.76 L518.91 165.82 L519.39 165.89 L519.87 165.95 L520.35 166.02 L520.83 166.08 L521.31 166.14 L521.79 166.21 L522.27 166.27 L522.75 166.33 L523.23 166.39 L523.71 166.45 L524.19 166.51 L524.67 166.58 L525.15 166.64 L525.63 166.70 L526.11 166.76 L526.59 166.82 L527.07 166.87 L527.55 166.93 L528.03 166.99 L528.51 167.05 L528.99 167.11 L529.47 167.17 L529.95 167.22 L530.95 167.34" stroke="#000084" stroke-width="2.3" stroke-dasharray="11.7 2.8"/>
<path d="M337.00 108.75 L338.00 108.75 L338.48 108.74 L338.96 108.73 L339.44 108.70 L339.92 108.67 L340.40 108.62 L340.88 108.57 L341.36 108.51 L341.84 108.43 L342.32 108.35 L342.80 108.25 L343.28 108.15 L343.76 108.03 L344.24 107.91 L344.72 107.77 L345.20 107.63 L345.68 107.47 L346.16 107.30 L346.64 107.13 L347.12 106.94 L347.60 106.73 L348.08 106.52 L348.56 106.30 L349.04 106.06 L349.52 105.81 L350.00 105.55 L350.48 105.28 L350.96 105.00 L351.44 104.70 L351.92 104.39 L352.40 104.06 L352.88 103.72 L353.36 103.37 L353.84 103.00 L354.32 102.62 L354.80 102.22 L355.28 101.81 L355.76 101.38 L356.24 100.93 L356.72 100.47 L357.19 99.99 L357.67 99.49 L358.15 98.98 L358.63 98.45 L359.11 97.89 L359.59 97.32 L360.07 96.72 L360.55 96.11 L361.03 95.47 L361.51 94.81 L361.99 94.13 L362.47 93.42 L362.95 92.69 L363.43 91.94 L363.91 91.15 L364.39 90.34 L364.87 89.51 L365.35 88.64 L365.83 87.74 L366.31 86.82 L366.79 85.86 L367.27 84.86 L367.75 83.84 L368.23 82.78 L368.71 81.68 L369.19 80.55 L369.67 79.38 L370.15 78.17 L370.63 76.92 L371.11 75.63 L371.59 74.30 L372.07 72.93 L372.55 71.52 L373.03 70.07 L373.51 68.57 L373.99 67.03 L374.47 65.46 L374.95 63.84 L375.43 62.19 L375.91 60.51 L376.39 58.80 L376.87 57.06 L377.35 55.30 L377.83 53.53 L378.31 51.76 L378.79 49.99 L379.27 48.24 L379.75 46.52 L380.23 44.85 L380.71 43.24 L381.19 41.72 L381.67 40.29 L382.15 39.00 L382.63 37.84 L383.11 36.86 L383.59 36.06 L384.07 35.48 L384.55 35.12 L385.03 35.00 L385.51 35.13 L385.99 35.52 L386.47 36.16 L386.95 37.05 L387.43 38.19 L387.91 39.54 L388.39 41.11 L388.87 42.87 L389.35 44.79 L389.83 46.85 L390.31 49.02 L390.79 51.29 L391.27 53.64 L391.75 56.03 L392.23 58.46 L392.71 60.91 L393.19 63.36 L393.67 65.79 L394.15 68.21 L394.63 70.60 L395.11 72.95 L395.59 75.26 L396.06 77.52 L396.54 79.74 L397.02 81.90 L397.50 84.01 L397.98 86.06 L398.46 88.06 L398.94 90.00 L399.42 91.89 L399.90 93.72 L400.38 95.50 L400.86 97.23 L401.34 98.90 L401.82 100.53 L402.30 102.11 L402.78 103.64 L403.26 105.13 L403.74 106.57 L404.22 107.97 L404.70 109.34 L405.18 110.66 L405.66 111.94 L406.14 113.18 L406.62 114.40 L407.10 115.57 L407.58 116.72 L408.06 117.83 L408.54 118.91 L409.02 119.96 L409.50 120.99 L409.98 121.98 L410.46 122.95 L410.94 123.90 L411.42 124.82 L411.90 125.72 L412.38 126.59 L412.86 127.45 L413.34 128.28 L413.82 129.09 L414.30 129.88 L414.78 130.66 L415.26 131.41 L415.74 132.15 L416.22 132.87 L416.70 133.57 L417.18 134.26 L417.66 134.93 L418.14 135.59 L418.62 136.23 L419.10 136.86 L419.58 137.48 L420.06 138.08 L420.54 138.67 L421.02 139.25 L421.50 139.81 L421.98 140.36 L422.46 140.91 L422.94 141.44 L423.42 141.96 L423.90 142.47 L424.38 142.97 L424.86 143.46 L425.34 143.94 L425.82 144.42 L426.30 144.88 L426.78 145.34 L427.26 145.78 L427.74 146.22 L428.22 146.65 L428.70 147.07 L429.18 147.49 L429.66 147.90 L430.14 148.30 L430.62 148.69 L431.10 149.08 L431.58 149.46 L432.06 149.83 L432.54 150.20 L433.02 150.56 L433.50 150.92 L433.98 151.27 L434.45 151.61 L434.93 151.95 L435.41 152.29 L435.89 152.61 L436.37 152.94 L436.85 153.26 L437.33 153.57 L437.81 153.88 L438.29 154.18 L438.77 154.48 L439.25 154.77 L439.73 155.06 L440.21 155.35 L440.69 155.63 L441.17 155.91 L441.65 156.18 L442.13 156.45 L442.61 156.72 L443.09 156.98 L443.57 157.24 L444.05 157.49 L444.53 157.74 L445.01 157.99 L445.49 158.24 L445.97 158.48 L446.45 158.72 L446.93 158.95 L447.41 159.18 L447.89 159.41 L448.37 159.64 L448.85 159.86 L449.33 160.08 L449.81 160.29 L450.29 160.51 L450.77 160.72 L451.25 160.93 L451.73 161.13 L452.21 161.34 L452.69 161.54 L453.17 161.74 L453.65 161.93 L454.13 162.13 L454.61 162.32 L455.09 162.51 L455.57 162.69 L456.05 162.88 L456.53 163.06 L457.01 163.24 L457.49 163.42 L457.97 163.60 L458.45 163.77 L458.93 163.94 L459.41 164.11 L459.89 164.28 L460.37 164.45 L460.85 164.61 L461.33 164.77 L461.81 164.93 L462.29 165.09 L462.77 165.25 L463.25 165.41 L463.73 165.56 L464.21 165.71 L464.69 165.86 L465.17 166.01 L465.65 166.16 L466.13 166.30 L466.61 166.45 L467.09 166.59 L467.57 166.73 L468.05 166.87 L468.53 167.01 L469.01 167.15 L469.49 167.28 L469.97 167.42 L470.45 167.55 L470.93 167.68 L471.41 167.81 L471.89 167.94 L472.37 168.07 L472.84 168.19 L473.32 168.32 L473.80 168.44 L474.28 168.57 L474.76 168.69 L475.24 168.81 L475.72 168.93 L476.20 169.04 L476.68 169.16 L477.16 169.28 L477.64 169.39 L478.12 169.50 L478.60 169.62 L479.08 169.73 L479.56 169.84 L480.04 169.95 L480.52 170.06 L481.00 170.16 L481.48 170.27 L481.96 170.38 L482.44 170.48 L482.92 170.58 L483.40 170.69 L483.88 170.79 L484.36 170.89 L484.84 170.99 L485.32 171.09 L485.80 171.19 L486.28 171.28 L486.76 171.38 L487.24 171.48 L487.72 171.57 L488.20 171.67 L488.68 171.76 L489.16 171.85 L489.64 171.94 L490.12 172.03 L490.60 172.12 L491.08 172.21 L491.56 172.30 L492.04 172.39 L492.52 172.48 L493.00 172.56 L493.48 172.65 L493.96 172.73 L494.44 172.82 L494.92 172.90 L495.40 172.99 L495.88 173.07 L496.36 173.15 L496.84 173.23 L497.32 173.31 L497.80 173.39 L498.28 173.47 L498.76 173.55 L499.24 173.63 L499.72 173.70 L500.20 173.78 L500.68 173.86 L501.16 173.93 L501.64 174.01 L502.12 174.08 L502.60 174.15 L503.08 174.23 L503.56 174.30 L504.04 174.37 L504.52 174.44 L505.00 174.51 L505.48 174.58 L505.96 174.65 L506.44 174.72 L506.92 174.79 L507.40 174.86 L507.88 174.93 L508.36 175.00 L508.84 175.06 L509.32 175.13 L509.80 175.20 L510.28 175.26 L510.75 175.33 L511.23 175.39 L511.71 175.46 L512.19 175.52 L512.67 175.58 L513.15 175.64 L513.63 175.71 L514.11 175.77 L514.59 175.83 L515.07 175.89 L515.55 175.95 L516.03 176.01 L516.51 176.07 L516.99 176.13 L517.47 176.19 L517.95 176.25 L518.43 176.31 L518.91 176.36 L519.39 176.42 L519.87 176.48 L520.35 176.53 L520.83 176.59 L521.31 176.65 L521.79 176.70 L522.27 176.76 L522.75 176.81 L523.23 176.87 L523.71 176.92 L524.19 176.97 L524.67 177.03 L525.15 177.08 L525.63 177.13 L526.11 177.18 L526.59 177.24 L527.07 177.29 L527.55 177.34 L528.03 177.39 L528.51 177.44 L528.99 177.49 L529.47 177.54 L529.95 177.59 L530.95 177.69" stroke="#008000" stroke-width="2.3" stroke-dasharray="11.7 2.8 4 2.8"/>
</g>
<path d="M338.00 181.3 v-3.0 M338.00 31.2 v3.0 M347.60 181.3 v-2.0 M347.60 31.2 v2.0 M357.19 181.3 v-2.0 M357.19 31.2 v2.0 M366.79 181.3 v-2.0 M366.79 31.2 v2.0 M376.39 181.3 v-2.0 M376.39 31.2 v2.0 M385.99 181.3 v-3.0 M385.99 31.2 v3.0 M395.59 181.3 v-2.0 M395.59 31.2 v2.0 M405.18 181.3 v-2.0 M405.18 31.2 v2.0 M414.78 181.3 v-2.0 M414.78 31.2 v2.0 M424.38 181.3 v-2.0 M424.38 31.2 v2.0 M433.98 181.3 v-3.0 M433.98 31.2 v3.0 M443.57 181.3 v-2.0 M443.57 31.2 v2.0 M453.17 181.3 v-2.0 M453.17 31.2 v2.0 M462.77 181.3 v-2.0 M462.77 31.2 v2.0 M472.37 181.3 v-2.0 M472.37 31.2 v2.0 M481.96 181.3 v-3.0 M481.96 31.2 v3.0 M491.56 181.3 v-2.0 M491.56 31.2 v2.0 M501.16 181.3 v-2.0 M501.16 31.2 v2.0 M510.75 181.3 v-2.0 M510.75 31.2 v2.0 M520.35 181.3 v-2.0 M520.35 31.2 v2.0 M529.95 181.3 v-3.0 M529.95 31.2 v3.0 M334.1 175.88 h2.0 M534.0 175.88 h-2.0 M334.1 168.05 h2.0 M534.0 168.05 h-2.0 M334.1 160.23 h2.0 M534.0 160.23 h-2.0 M334.1 152.40 h3.0 M534.0 152.40 h-3.0 M334.1 144.57 h2.0 M534.0 144.57 h-2.0 M334.1 136.75 h2.0 M534.0 136.75 h-2.0 M334.1 128.92 h2.0 M534.0 128.92 h-2.0 M334.1 121.09 h2.0 M534.0 121.09 h-2.0 M334.1 113.27 h3.0 M534.0 113.27 h-3.0 M334.1 105.44 h2.0 M534.0 105.44 h-2.0 M334.1 97.61 h2.0 M534.0 97.61 h-2.0 M334.1 89.79 h2.0 M534.0 89.79 h-2.0 M334.1 81.96 h2.0 M534.0 81.96 h-2.0 M334.1 74.13 h3.0 M534.0 74.13 h-3.0 M334.1 66.31 h2.0 M534.0 66.31 h-2.0 M334.1 58.48 h2.0 M534.0 58.48 h-2.0 M334.1 50.65 h2.0 M534.0 50.65 h-2.0 M334.1 42.83 h2.0 M534.0 42.83 h-2.0 M334.1 35.00 h3.0 M534.0 35.00 h-3.0" stroke="#1c1c1c" stroke-width="0.95" fill="none"/>
<rect x="334.1" y="31.2" width="199.90" height="150.10" fill="none" stroke="#1c1c1c" stroke-width="1.15"/>
<g font-family="Liberation Serif, serif" font-size="18" fill="#000"><text x="331.1" y="157.20" text-anchor="end">0.05</text><text x="331.1" y="118.07" text-anchor="end">0.10</text><text x="331.1" y="78.93" text-anchor="end">0.15</text><text x="331.1" y="39.80" text-anchor="end">0.20</text><text x="338.00" y="197.80" text-anchor="middle">0</text><text x="385.99" y="197.80" text-anchor="middle">5</text><text x="433.98" y="197.80" text-anchor="middle">10</text><text x="481.96" y="197.80" text-anchor="middle">15</text><text x="529.95" y="197.80" text-anchor="middle">20</text></g>
<g transform="translate(387.50,20.90)" fill="none" stroke="#000" stroke-linecap="round" stroke-linejoin="round"><path d="M0.1 -6.6 C0.7 -8.0 1.6 -8.7 3.0 -8.75 L9.7 -9.05" stroke-width="1.15"/><path d="M5.9 -8.7 C5.3 -6.6 4.3 -4.2 3.75 -2.3 C3.3 -0.7 4.3 -0.1 5.7 -1.0" stroke-width="1.55"/></g>
<text x="481.10" y="20.90" text-anchor="end" word-spacing="-0.3" font-family="Liberation Serif, serif" font-size="23.2" fill="#000">= <tspan dx="-0.1">5</tspan><tspan dx="0.1"> fm/c</tspan></text>
<clipPath id="c2"><rect x="608.1" y="31.2" width="199.69999999999993" height="150.0"/></clipPath>
<g clip-path="url(#c2)" fill="none" stroke-linecap="butt" stroke-linejoin="round">
<path d="M611.00 141.03 L612.00 141.03 L612.48 141.02 L612.96 141.02 L613.44 141.02 L613.92 141.01 L614.40 141.00 L614.87 140.99 L615.35 140.98 L615.83 140.97 L616.31 140.96 L616.79 140.94 L617.27 140.92 L617.75 140.90 L618.23 140.88 L618.71 140.86 L619.19 140.83 L619.67 140.81 L620.15 140.78 L620.62 140.75 L621.10 140.72 L621.58 140.68 L622.06 140.65 L622.54 140.61 L623.02 140.57 L623.50 140.53 L623.98 140.49 L624.46 140.44 L624.94 140.40 L625.42 140.35 L625.89 140.30 L626.37 140.25 L626.85 140.19 L627.33 140.14 L627.81 140.08 L628.29 140.02 L628.77 139.96 L629.25 139.89 L629.73 139.83 L630.21 139.76 L630.69 139.69 L631.16 139.62 L631.64 139.55 L632.12 139.47 L632.60 139.39 L633.08 139.31 L633.56 139.23 L634.04 139.15 L634.52 139.06 L635.00 138.97 L635.48 138.88 L635.96 138.79 L636.44 138.69 L636.91 138.60 L637.39 138.50 L637.87 138.39 L638.35 138.29 L638.83 138.18 L639.31 138.07 L639.79 137.96 L640.27 137.85 L640.75 137.73 L641.23 137.61 L641.71 137.49 L642.18 137.37 L642.66 137.24 L643.14 137.11 L643.62 136.97 L644.10 136.84 L644.58 136.70 L645.06 136.56 L645.54 136.42 L646.02 136.27 L646.50 136.12 L646.98 135.97 L647.46 135.81 L647.93 135.65 L648.41 135.49 L648.89 135.32 L649.37 135.15 L649.85 134.98 L650.33 134.80 L650.81 134.62 L651.29 134.44 L651.77 134.25 L652.25 134.06 L652.73 133.87 L653.20 133.67 L653.68 133.47 L654.16 133.26 L654.64 133.05 L655.12 132.84 L655.60 132.62 L656.08 132.39 L656.56 132.17 L657.04 131.94 L657.52 131.70 L658.00 131.46 L658.48 131.21 L658.95 130.96 L659.43 130.70 L659.91 130.44 L660.39 130.18 L660.87 129.90 L661.35 129.63 L661.83 129.34 L662.31 129.05 L662.79 128.76 L663.27 128.46 L663.75 128.15 L664.22 127.84 L664.70 127.52 L665.18 127.19 L665.66 126.86 L666.14 126.52 L666.62 126.17 L667.10 125.81 L667.58 125.45 L668.06 125.08 L668.54 124.70 L669.02 124.31 L669.50 123.91 L669.97 123.51 L670.45 123.09 L670.93 122.67 L671.41 122.24 L671.89 121.79 L672.37 121.34 L672.85 120.88 L673.33 120.40 L673.81 119.92 L674.29 119.42 L674.77 118.91 L675.24 118.39 L675.72 117.85 L676.20 117.31 L676.68 116.75 L677.16 116.17 L677.64 115.58 L678.12 114.98 L678.60 114.36 L679.08 113.72 L679.56 113.07 L680.04 112.40 L680.51 111.71 L680.99 111.00 L681.47 110.28 L681.95 109.53 L682.43 108.77 L682.91 107.98 L683.39 107.17 L683.87 106.34 L684.35 105.48 L684.83 104.60 L685.31 103.69 L685.79 102.76 L686.26 101.79 L686.74 100.80 L687.22 99.78 L687.70 98.73 L688.18 97.64 L688.66 96.53 L689.14 95.37 L689.62 94.18 L690.10 92.96 L690.58 91.69 L691.06 90.39 L691.53 89.04 L692.01 87.65 L692.49 86.22 L692.97 84.74 L693.45 83.22 L693.93 81.65 L694.41 80.03 L694.89 78.36 L695.37 76.64 L695.85 74.88 L696.33 73.07 L696.81 71.21 L697.28 69.30 L697.76 67.35 L698.24 65.37 L698.72 63.34 L699.20 61.29 L699.68 59.21 L700.16 57.12 L700.64 55.02 L701.12 52.94 L701.60 50.87 L702.08 48.85 L702.55 46.88 L703.03 44.99 L703.51 43.20 L703.99 41.53 L704.47 40.02 L704.95 38.68 L705.43 37.54 L705.91 36.62 L706.39 35.95 L706.87 35.54 L707.35 35.40 L707.83 35.54 L708.30 35.96 L708.78 36.66 L709.26 37.63 L709.74 38.85 L710.22 40.29 L710.70 41.95 L711.18 43.79 L711.66 45.79 L712.14 47.92 L712.62 50.15 L713.10 52.46 L713.57 54.83 L714.05 57.24 L714.53 59.66 L715.01 62.09 L715.49 64.51 L715.97 66.90 L716.45 69.26 L716.93 71.59 L717.41 73.87 L717.89 76.10 L718.37 78.27 L718.84 80.39 L719.32 82.46 L719.80 84.46 L720.28 86.41 L720.76 88.30 L721.24 90.13 L721.72 91.91 L722.20 93.63 L722.68 95.30 L723.16 96.92 L723.64 98.48 L724.12 100.00 L724.59 101.47 L725.07 102.90 L725.55 104.28 L726.03 105.62 L726.51 106.92 L726.99 108.17 L727.47 109.40 L727.95 110.58 L728.43 111.73 L728.91 112.85 L729.39 113.94 L729.86 114.99 L730.34 116.02 L730.82 117.02 L731.30 117.99 L731.78 118.93 L732.26 119.85 L732.74 120.75 L733.22 121.62 L733.70 122.47 L734.18 123.30 L734.66 124.11 L735.14 124.90 L735.61 125.67 L736.09 126.42 L736.57 127.15 L737.05 127.87 L737.53 128.57 L738.01 129.26 L738.49 129.93 L738.97 130.58 L739.45 131.22 L739.93 131.85 L740.41 132.46 L740.88 133.06 L741.36 133.65 L741.84 134.23 L742.32 134.79 L742.80 135.35 L743.28 135.89 L743.76 136.42 L744.24 136.94 L744.72 137.46 L745.20 137.96 L745.68 138.45 L746.15 138.94 L746.63 139.41 L747.11 139.88 L747.59 140.34 L748.07 140.79 L748.55 141.23 L749.03 141.67 L749.51 142.10 L749.99 142.52 L750.47 142.93 L750.95 143.34 L751.43 143.74 L751.90 144.13 L752.38 144.52 L752.86 144.90 L753.34 145.28 L753.82 145.65 L754.30 146.02 L754.78 146.38 L755.26 146.73 L755.74 147.08 L756.22 147.42 L756.70 147.76 L757.17 148.09 L757.65 148.42 L758.13 148.75 L758.61 149.07 L759.09 149.38 L759.57 149.69 L760.05 150.00 L760.53 150.30 L761.01 150.60 L761.49 150.90 L761.97 151.19 L762.45 151.48 L762.92 151.76 L763.40 152.04 L763.88 152.32 L764.36 152.59 L764.84 152.86 L765.32 153.13 L765.80 153.39 L766.28 153.65 L766.76 153.91 L767.24 154.16 L767.72 154.41 L768.19 154.66 L768.67 154.90 L769.15 155.14 L769.63 155.38 L770.11 155.62 L770.59 155.85 L771.07 156.09 L771.55 156.31 L772.03 156.54 L772.51 156.76 L772.99 156.99 L773.47 157.20 L773.94 157.42 L774.42 157.64 L774.90 157.85 L775.38 158.06 L775.86 158.26 L776.34 158.47 L776.82 158.67 L777.30 158.87 L777.78 159.07 L778.26 159.27 L778.74 159.47 L779.21 159.66 L779.69 159.85 L780.17 160.04 L780.65 160.23 L781.13 160.41 L781.61 160.60 L782.09 160.78 L782.57 160.96 L783.05 161.14 L783.53 161.32 L784.01 161.49 L784.49 161.67 L784.96 161.84 L785.44 162.01 L785.92 162.18 L786.40 162.35 L786.88 162.51 L787.36 162.68 L787.84 162.84 L788.32 163.00 L788.80 163.16 L789.28 163.32 L789.76 163.48 L790.23 163.64 L790.71 163.79 L791.19 163.94 L791.67 164.10 L792.15 164.25 L792.63 164.40 L793.11 164.54 L793.59 164.69 L794.07 164.84 L794.55 164.98 L795.03 165.13 L795.50 165.27 L795.98 165.41 L796.46 165.55 L796.94 165.69 L797.42 165.83 L797.90 165.96 L798.38 166.10 L798.86 166.23 L799.34 166.37 L799.82 166.50 L800.30 166.63 L800.78 166.76 L801.25 166.89 L801.73 167.02 L802.21 167.15 L802.69 167.28 L803.17 167.40 L803.65 167.53 L804.65 167.79" stroke="#000000" stroke-width="2.8"/>
<path d="M611.00 141.98 L612.00 141.98 L612.48 141.98 L612.96 141.98 L613.44 141.97 L613.92 141.97 L614.40 141.96 L614.87 141.95 L615.35 141.94 L615.83 141.92 L616.31 141.91 L616.79 141.89 L617.27 141.87 L617.75 141.85 L618.23 141.83 L618.71 141.81 L619.19 141.78 L619.67 141.76 L620.15 141.73 L620.62 141.70 L621.10 141.66 L621.58 141.63 L622.06 141.59 L622.54 141.56 L623.02 141.52 L623.50 141.47 L623.98 141.43 L624.46 141.39 L624.94 141.34 L625.42 141.29 L625.89 141.24 L626.37 141.18 L626.85 141.13 L627.33 141.07 L627.81 141.01 L628.29 140.95 L628.77 140.89 L629.25 140.83 L629.73 140.76 L630.21 140.69 L630.69 140.62 L631.16 140.55 L631.64 140.47 L632.12 140.39 L632.60 140.31 L633.08 140.23 L633.56 140.15 L634.04 140.06 L634.52 139.98 L635.00 139.88 L635.48 139.79 L635.96 139.70 L636.44 139.60 L636.91 139.50 L637.39 139.40 L637.87 139.29 L638.35 139.19 L638.83 139.08 L639.31 138.97 L639.79 138.85 L640.27 138.74 L640.75 138.62 L641.23 138.50 L641.71 138.37 L642.18 138.24 L642.66 138.11 L643.14 137.98 L643.62 137.85 L644.10 137.71 L644.58 137.57 L645.06 137.42 L645.54 137.27 L646.02 137.12 L646.50 136.97 L646.98 136.81 L647.46 136.66 L647.93 136.49 L648.41 136.33 L648.89 136.16 L649.37 135.98 L649.85 135.81 L650.33 135.63 L650.81 135.44 L651.29 135.26 L651.77 135.07 L652.25 134.87 L652.73 134.67 L653.20 134.47 L653.68 134.26 L654.16 134.05 L654.64 133.84 L655.12 133.62 L655.60 133.40 L656.08 133.17 L656.56 132.94 L657.04 132.70 L657.52 132.46 L658.00 132.21 L658.48 131.96 L658.95 131.71 L659.43 131.44 L659.91 131.18 L660.39 130.91 L660.87 130.63 L661.35 130.35 L661.83 130.06 L662.31 129.76 L662.79 129.46 L663.27 129.15 L663.75 128.84 L664.22 128.52 L664.70 128.19 L665.18 127.86 L665.66 127.52 L666.14 127.17 L666.62 126.82 L667.10 126.46 L667.58 126.08 L668.06 125.71 L668.54 125.32 L669.02 124.92 L669.50 124.52 L669.97 124.11 L670.45 123.69 L670.93 123.25 L671.41 122.81 L671.89 122.36 L672.37 121.90 L672.85 121.43 L673.33 120.95 L673.81 120.45 L674.29 119.94 L674.77 119.43 L675.24 118.90 L675.72 118.35 L676.20 117.80 L676.68 117.22 L677.16 116.64 L677.64 116.04 L678.12 115.43 L678.60 114.80 L679.08 114.15 L679.56 113.49 L680.04 112.81 L680.51 112.11 L680.99 111.39 L681.47 110.65 L681.95 109.90 L682.43 109.12 L682.91 108.32 L683.39 107.50 L683.87 106.66 L684.35 105.79 L684.83 104.89 L685.31 103.98 L685.79 103.03 L686.26 102.06 L686.74 101.05 L687.22 100.02 L687.70 98.96 L688.18 97.86 L688.66 96.73 L689.14 95.57 L689.62 94.37 L690.10 93.13 L690.58 91.85 L691.06 90.54 L691.53 89.18 L692.01 87.78 L692.49 86.34 L692.97 84.85 L693.45 83.31 L693.93 81.73 L694.41 80.11 L694.89 78.43 L695.37 76.71 L695.85 74.93 L696.33 73.11 L696.81 71.25 L697.28 69.34 L697.76 67.38 L698.24 65.39 L698.72 63.36 L699.20 61.30 L699.68 59.22 L700.16 57.13 L700.64 55.03 L701.12 52.94 L701.60 50.87 L702.08 48.85 L702.55 46.88 L703.03 44.99 L703.51 43.20 L703.99 41.53 L704.47 40.02 L704.95 38.68 L705.43 37.54 L705.91 36.62 L706.39 35.95 L706.87 35.54 L707.35 35.40 L707.83 35.54 L708.30 35.96 L708.78 36.66 L709.26 37.63 L709.74 38.85 L710.22 40.29 L710.70 41.95 L711.18 43.79 L711.66 45.79 L712.14 47.92 L712.62 50.15 L713.10 52.46 L713.57 54.84 L714.05 57.25 L714.53 59.68 L715.01 62.11 L715.49 64.53 L715.97 66.93 L716.45 69.30 L716.93 71.64 L717.41 73.93 L717.89 76.17 L718.37 78.36 L718.84 80.49 L719.32 82.57 L719.80 84.59 L720.28 86.56 L720.76 88.46 L721.24 90.32 L721.72 92.11 L722.20 93.85 L722.68 95.54 L723.16 97.18 L723.64 98.77 L724.12 100.31 L724.59 101.80 L725.07 103.25 L725.55 104.65 L726.03 106.01 L726.51 107.34 L726.99 108.62 L727.47 109.86 L727.95 111.07 L728.43 112.25 L728.91 113.39 L729.39 114.50 L729.86 115.58 L730.34 116.63 L730.82 117.65 L731.30 118.64 L731.78 119.61 L732.26 120.55 L732.74 121.47 L733.22 122.36 L733.70 123.23 L734.18 124.08 L734.66 124.91 L735.14 125.72 L735.61 126.51 L736.09 127.28 L736.57 128.03 L737.05 128.77 L737.53 129.49 L738.01 130.19 L738.49 130.88 L738.97 131.55 L739.45 132.21 L739.93 132.85 L740.41 133.48 L740.88 134.10 L741.36 134.71 L741.84 135.30 L742.32 135.88 L742.80 136.45 L743.28 137.01 L743.76 137.55 L744.24 138.09 L744.72 138.61 L745.20 139.13 L745.68 139.64 L746.15 140.13 L746.63 140.62 L747.11 141.10 L747.59 141.57 L748.07 142.04 L748.55 142.49 L749.03 142.94 L749.51 143.38 L749.99 143.81 L750.47 144.23 L750.95 144.65 L751.43 145.06 L751.90 145.47 L752.38 145.86 L752.86 146.26 L753.34 146.64 L753.82 147.02 L754.30 147.39 L754.78 147.76 L755.26 148.12 L755.74 148.48 L756.22 148.83 L756.70 149.18 L757.17 149.52 L757.65 149.86 L758.13 150.19 L758.61 150.52 L759.09 150.84 L759.57 151.16 L760.05 151.47 L760.53 151.78 L761.01 152.09 L761.49 152.39 L761.97 152.68 L762.45 152.98 L762.92 153.27 L763.40 153.55 L763.88 153.83 L764.36 154.11 L764.84 154.39 L765.32 154.66 L765.80 154.93 L766.28 155.19 L766.76 155.45 L767.24 155.71 L767.72 155.97 L768.19 156.22 L768.67 156.47 L769.15 156.71 L769.63 156.96 L770.11 157.20 L770.59 157.44 L771.07 157.67 L771.55 157.90 L772.03 158.13 L772.51 158.36 L772.99 158.58 L773.47 158.81 L773.94 159.03 L774.42 159.24 L774.90 159.46 L775.38 159.67 L775.86 159.88 L776.34 160.09 L776.82 160.30 L777.30 160.50 L777.78 160.70 L778.26 160.90 L778.74 161.10 L779.21 161.29 L779.69 161.49 L780.17 161.68 L780.65 161.87 L781.13 162.06 L781.61 162.24 L782.09 162.43 L782.57 162.61 L783.05 162.79 L783.53 162.97 L784.01 163.15 L784.49 163.32 L784.96 163.50 L785.44 163.67 L785.92 163.84 L786.40 164.01 L786.88 164.18 L787.36 164.34 L787.84 164.51 L788.32 164.67 L788.80 164.83 L789.28 164.99 L789.76 165.15 L790.23 165.31 L790.71 165.46 L791.19 165.62 L791.67 165.77 L792.15 165.92 L792.63 166.07 L793.11 166.22 L793.59 166.37 L794.07 166.52 L794.55 166.66 L795.03 166.81 L795.50 166.95 L795.98 167.09 L796.46 167.23 L796.94 167.37 L797.42 167.51 L797.90 167.65 L798.38 167.78 L798.86 167.92 L799.34 168.05 L799.82 168.18 L800.30 168.32 L800.78 168.45 L801.25 168.58 L801.73 168.70 L802.21 168.83 L802.69 168.96 L803.17 169.09 L803.65 169.21 L804.65 169.47" stroke="#ff0000" stroke-width="2.3" stroke-dasharray="4.9 2.8"/>
<path d="M611.00 140.54 L612.00 140.54 L612.48 140.54 L612.96 140.53 L613.44 140.53 L613.92 140.52 L614.40 140.52 L614.87 140.51 L615.35 140.50 L615.83 140.48 L616.31 140.47 L616.79 140.45 L617.27 140.44 L617.75 140.42 L618.23 140.40 L618.71 140.37 L619.19 140.35 L619.67 140.32 L620.15 140.30 L620.62 140.27 L621.10 140.23 L621.58 140.20 L622.06 140.17 L622.54 140.13 L623.02 140.09 L623.50 140.05 L623.98 140.01 L624.46 139.97 L624.94 139.92 L625.42 139.87 L625.89 139.83 L626.37 139.77 L626.85 139.72 L627.33 139.67 L627.81 139.61 L628.29 139.55 L628.77 139.49 L629.25 139.43 L629.73 139.37 L630.21 139.30 L630.69 139.23 L631.16 139.16 L631.64 139.09 L632.12 139.02 L632.60 138.94 L633.08 138.86 L633.56 138.78 L634.04 138.70 L634.52 138.61 L635.00 138.53 L635.48 138.44 L635.96 138.35 L636.44 138.25 L636.91 138.16 L637.39 138.06 L637.87 137.96 L638.35 137.86 L638.83 137.75 L639.31 137.65 L639.79 137.54 L640.27 137.43 L640.75 137.31 L641.23 137.19 L641.71 137.07 L642.18 136.95 L642.66 136.83 L643.14 136.70 L643.62 136.57 L644.10 136.44 L644.58 136.30 L645.06 136.16 L645.54 136.02 L646.02 135.88 L646.50 135.73 L646.98 135.58 L647.46 135.42 L647.93 135.27 L648.41 135.11 L648.89 134.95 L649.37 134.78 L649.85 134.61 L650.33 134.44 L650.81 134.26 L651.29 134.08 L651.77 133.90 L652.25 133.71 L652.73 133.52 L653.20 133.32 L653.68 133.12 L654.16 132.92 L654.64 132.71 L655.12 132.50 L655.60 132.29 L656.08 132.07 L656.56 131.85 L657.04 131.62 L657.52 131.38 L658.00 131.15 L658.48 130.90 L658.95 130.66 L659.43 130.40 L659.91 130.15 L660.39 129.88 L660.87 129.62 L661.35 129.34 L661.83 129.06 L662.31 128.78 L662.79 128.49 L663.27 128.19 L663.75 127.89 L664.22 127.58 L664.70 127.26 L665.18 126.94 L665.66 126.61 L666.14 126.27 L666.62 125.93 L667.10 125.58 L667.58 125.22 L668.06 124.85 L668.54 124.48 L669.02 124.10 L669.50 123.70 L669.97 123.30 L670.45 122.89 L670.93 122.47 L671.41 122.05 L671.89 121.61 L672.37 121.16 L672.85 120.70 L673.33 120.23 L673.81 119.75 L674.29 119.26 L674.77 118.75 L675.24 118.24 L675.72 117.71 L676.20 117.16 L676.68 116.61 L677.16 116.04 L677.64 115.45 L678.12 114.85 L678.60 114.24 L679.08 113.60 L679.56 112.96 L680.04 112.29 L680.51 111.61 L680.99 110.91 L681.47 110.18 L681.95 109.44 L682.43 108.68 L682.91 107.90 L683.39 107.09 L683.87 106.26 L684.35 105.41 L684.83 104.53 L685.31 103.63 L685.79 102.70 L686.26 101.74 L686.74 100.75 L687.22 99.74 L687.70 98.69 L688.18 97.61 L688.66 96.49 L689.14 95.34 L689.62 94.15 L690.10 92.93 L690.58 91.67 L691.06 90.37 L691.53 89.02 L692.01 87.63 L692.49 86.20 L692.97 84.73 L693.45 83.21 L693.93 81.64 L694.41 80.02 L694.89 78.35 L695.37 76.64 L695.85 74.88 L696.33 73.06 L696.81 71.20 L697.28 69.30 L697.76 67.35 L698.24 65.36 L698.72 63.34 L699.20 61.29 L699.68 59.21 L700.16 57.12 L700.64 55.02 L701.12 52.94 L701.60 50.87 L702.08 48.85 L702.55 46.88 L703.03 44.99 L703.51 43.20 L703.99 41.53 L704.47 40.02 L704.95 38.68 L705.43 37.54 L705.91 36.62 L706.39 35.95 L706.87 35.54 L707.35 35.40 L707.83 35.54 L708.30 35.96 L708.78 36.66 L709.26 37.63 L709.74 38.85 L710.22 40.29 L710.70 41.95 L711.18 43.79 L711.66 45.79 L712.14 47.92 L712.62 50.15 L713.10 52.46 L713.57 54.83 L714.05 57.24 L714.53 59.66 L715.01 62.09 L715.49 64.50 L715.97 66.90 L716.45 69.26 L716.93 71.58 L717.41 73.86 L717.89 76.09 L718.37 78.26 L718.84 80.38 L719.32 82.44 L719.80 84.45 L720.28 86.39 L720.76 88.28 L721.24 90.11 L721.72 91.88 L722.20 93.59 L722.68 95.26 L723.16 96.87 L723.64 98.43 L724.12 99.94 L724.59 101.40 L725.07 102.82 L725.55 104.19 L726.03 105.52 L726.51 106.81 L726.99 108.06 L727.47 109.27 L727.95 110.45 L728.43 111.59 L728.91 112.69 L729.39 113.77 L729.86 114.81 L730.34 115.83 L730.82 116.81 L731.30 117.77 L731.78 118.71 L732.26 119.61 L732.74 120.50 L733.22 121.35 L733.70 122.19 L734.18 123.01 L734.66 123.80 L735.14 124.58 L735.61 125.33 L736.09 126.07 L736.57 126.79 L737.05 127.49 L737.53 128.18 L738.01 128.85 L738.49 129.51 L738.97 130.15 L739.45 130.77 L739.93 131.38 L740.41 131.98 L740.88 132.57 L741.36 133.14 L741.84 133.71 L742.32 134.26 L742.80 134.79 L743.28 135.32 L743.76 135.84 L744.24 136.35 L744.72 136.85 L745.20 137.33 L745.68 137.81 L746.15 138.28 L746.63 138.74 L747.11 139.20 L747.59 139.64 L748.07 140.08 L748.55 140.51 L749.03 140.93 L749.51 141.34 L749.99 141.75 L750.47 142.15 L750.95 142.54 L751.43 142.93 L751.90 143.31 L752.38 143.68 L752.86 144.05 L753.34 144.41 L753.82 144.77 L754.30 145.12 L754.78 145.47 L755.26 145.81 L755.74 146.15 L756.22 146.48 L756.70 146.80 L757.17 147.12 L757.65 147.44 L758.13 147.75 L758.61 148.06 L759.09 148.36 L759.57 148.66 L760.05 148.95 L760.53 149.25 L761.01 149.53 L761.49 149.81 L761.97 150.09 L762.45 150.37 L762.92 150.64 L763.40 150.91 L763.88 151.17 L764.36 151.44 L764.84 151.69 L765.32 151.95 L765.80 152.20 L766.28 152.45 L766.76 152.70 L767.24 152.94 L767.72 153.18 L768.19 153.41 L768.67 153.65 L769.15 153.88 L769.63 154.11 L770.11 154.34 L770.59 154.56 L771.07 154.78 L771.55 155.00 L772.03 155.21 L772.51 155.43 L772.99 155.64 L773.47 155.85 L773.94 156.06 L774.42 156.26 L774.90 156.46 L775.38 156.66 L775.86 156.86 L776.34 157.06 L776.82 157.25 L777.30 157.44 L777.78 157.63 L778.26 157.82 L778.74 158.01 L779.21 158.19 L779.69 158.38 L780.17 158.56 L780.65 158.74 L781.13 158.91 L781.61 159.09 L782.09 159.26 L782.57 159.43 L783.05 159.61 L783.53 159.77 L784.01 159.94 L784.49 160.11 L784.96 160.27 L785.44 160.44 L785.92 160.60 L786.40 160.76 L786.88 160.91 L787.36 161.07 L787.84 161.23 L788.32 161.38 L788.80 161.53 L789.28 161.69 L789.76 161.84 L790.23 161.99 L790.71 162.13 L791.19 162.28 L791.67 162.43 L792.15 162.57 L792.63 162.71 L793.11 162.85 L793.59 162.99 L794.07 163.13 L794.55 163.27 L795.03 163.41 L795.50 163.55 L795.98 163.68 L796.46 163.81 L796.94 163.95 L797.42 164.08 L797.90 164.21 L798.38 164.34 L798.86 164.47 L799.34 164.59 L799.82 164.72 L800.30 164.85 L800.78 164.97 L801.25 165.10 L801.73 165.22 L802.21 165.34 L802.69 165.46 L803.17 165.58 L803.65 165.70 L804.65 165.95" stroke="#000084" stroke-width="2.3" stroke-dasharray="11.7 2.8"/>
<path d="M611.00 147.65 L612.00 147.65 L612.48 147.64 L612.96 147.64 L613.44 147.64 L613.92 147.63 L614.40 147.62 L614.87 147.61 L615.35 147.60 L615.83 147.59 L616.31 147.57 L616.79 147.55 L617.27 147.53 L617.75 147.51 L618.23 147.49 L618.71 147.46 L619.19 147.43 L619.67 147.40 L620.15 147.37 L620.62 147.34 L621.10 147.31 L621.58 147.27 L622.06 147.23 L622.54 147.19 L623.02 147.15 L623.50 147.10 L623.98 147.05 L624.46 147.01 L624.94 146.95 L625.42 146.90 L625.89 146.85 L626.37 146.79 L626.85 146.73 L627.33 146.67 L627.81 146.61 L628.29 146.54 L628.77 146.47 L629.25 146.40 L629.73 146.33 L630.21 146.26 L630.69 146.18 L631.16 146.10 L631.64 146.02 L632.12 145.94 L632.60 145.85 L633.08 145.76 L633.56 145.67 L634.04 145.58 L634.52 145.49 L635.00 145.39 L635.48 145.29 L635.96 145.19 L636.44 145.08 L636.91 144.98 L637.39 144.87 L637.87 144.75 L638.35 144.64 L638.83 144.52 L639.31 144.40 L639.79 144.28 L640.27 144.15 L640.75 144.02 L641.23 143.89 L641.71 143.76 L642.18 143.62 L642.66 143.48 L643.14 143.34 L643.62 143.19 L644.10 143.04 L644.58 142.89 L645.06 142.73 L645.54 142.58 L646.02 142.41 L646.50 142.25 L646.98 142.08 L647.46 141.91 L647.93 141.73 L648.41 141.55 L648.89 141.37 L649.37 141.18 L649.85 140.99 L650.33 140.80 L650.81 140.60 L651.29 140.40 L651.77 140.19 L652.25 139.98 L652.73 139.77 L653.20 139.55 L653.68 139.33 L654.16 139.10 L654.64 138.87 L655.12 138.63 L655.60 138.39 L656.08 138.14 L656.56 137.89 L657.04 137.63 L657.52 137.37 L658.00 137.11 L658.48 136.84 L658.95 136.56 L659.43 136.28 L659.91 135.99 L660.39 135.69 L660.87 135.39 L661.35 135.09 L661.83 134.77 L662.31 134.45 L662.79 134.13 L663.27 133.80 L663.75 133.46 L664.22 133.11 L664.70 132.76 L665.18 132.40 L665.66 132.03 L666.14 131.65 L666.62 131.27 L667.10 130.87 L667.58 130.47 L668.06 130.06 L668.54 129.64 L669.02 129.22 L669.50 128.78 L669.97 128.33 L670.45 127.88 L670.93 127.41 L671.41 126.93 L671.89 126.44 L672.37 125.94 L672.85 125.43 L673.33 124.91 L673.81 124.38 L674.29 123.83 L674.77 123.27 L675.24 122.69 L675.72 122.11 L676.20 121.50 L676.68 120.89 L677.16 120.25 L677.64 119.61 L678.12 118.94 L678.60 118.26 L679.08 117.56 L679.56 116.85 L680.04 116.11 L680.51 115.36 L680.99 114.59 L681.47 113.79 L681.95 112.98 L682.43 112.14 L682.91 111.28 L683.39 110.40 L683.87 109.49 L684.35 108.56 L684.83 107.60 L685.31 106.61 L685.79 105.60 L686.26 104.55 L686.74 103.48 L687.22 102.37 L687.70 101.24 L688.18 100.06 L688.66 98.86 L689.14 97.62 L689.62 96.34 L690.10 95.02 L690.58 93.66 L691.06 92.27 L691.53 90.83 L692.01 89.34 L692.49 87.82 L692.97 86.24 L693.45 84.63 L693.93 82.96 L694.41 81.25 L694.89 79.49 L695.37 77.68 L695.85 75.83 L696.33 73.93 L696.81 71.99 L697.28 70.00 L697.76 67.97 L698.24 65.91 L698.72 63.81 L699.20 61.69 L699.68 59.55 L700.16 57.40 L700.64 55.25 L701.12 53.12 L701.60 51.01 L702.08 48.95 L702.55 46.95 L703.03 45.04 L703.51 43.23 L703.99 41.55 L704.47 40.03 L704.95 38.68 L705.43 37.54 L705.91 36.62 L706.39 35.95 L706.87 35.54 L707.35 35.40 L707.83 35.54 L708.30 35.96 L708.78 36.66 L709.26 37.63 L709.74 38.85 L710.22 40.31 L710.70 41.98 L711.18 43.83 L711.66 45.86 L712.14 48.01 L712.62 50.29 L713.10 52.65 L713.57 55.07 L714.05 57.55 L714.53 60.05 L715.01 62.56 L715.49 65.07 L715.97 67.57 L716.45 70.04 L716.93 72.48 L717.41 74.89 L717.89 77.25 L718.37 79.56 L718.84 81.82 L719.32 84.03 L719.80 86.18 L720.28 88.28 L720.76 90.32 L721.24 92.30 L721.72 94.24 L722.20 96.11 L722.68 97.94 L723.16 99.71 L723.64 101.43 L724.12 103.10 L724.59 104.72 L725.07 106.30 L725.55 107.83 L726.03 109.32 L726.51 110.76 L726.99 112.17 L727.47 113.53 L727.95 114.86 L728.43 116.15 L728.91 117.40 L729.39 118.62 L729.86 119.81 L730.34 120.96 L730.82 122.09 L731.30 123.18 L731.78 124.25 L732.26 125.29 L732.74 126.30 L733.22 127.29 L733.70 128.25 L734.18 129.19 L734.66 130.11 L735.14 131.00 L735.61 131.87 L736.09 132.73 L736.57 133.56 L737.05 134.37 L737.53 135.17 L738.01 135.94 L738.49 136.70 L738.97 137.44 L739.45 138.17 L739.93 138.88 L740.41 139.57 L740.88 140.25 L741.36 140.92 L741.84 141.57 L742.32 142.21 L742.80 142.84 L743.28 143.45 L743.76 144.05 L744.24 144.64 L744.72 145.22 L745.20 145.78 L745.68 146.34 L746.15 146.89 L746.63 147.42 L747.11 147.95 L747.59 148.46 L748.07 148.97 L748.55 149.46 L749.03 149.95 L749.51 150.43 L749.99 150.90 L750.47 151.37 L750.95 151.82 L751.43 152.27 L751.90 152.71 L752.38 153.14 L752.86 153.56 L753.34 153.98 L753.82 154.39 L754.30 154.80 L754.78 155.20 L755.26 155.59 L755.74 155.97 L756.22 156.35 L756.70 156.73 L757.17 157.10 L757.65 157.46 L758.13 157.82 L758.61 158.17 L759.09 158.51 L759.57 158.85 L760.05 159.19 L760.53 159.52 L761.01 159.85 L761.49 160.17 L761.97 160.49 L762.45 160.80 L762.92 161.11 L763.40 161.41 L763.88 161.71 L764.36 162.01 L764.84 162.30 L765.32 162.59 L765.80 162.87 L766.28 163.16 L766.76 163.43 L767.24 163.71 L767.72 163.98 L768.19 164.24 L768.67 164.50 L769.15 164.76 L769.63 165.02 L770.11 165.27 L770.59 165.52 L771.07 165.77 L771.55 166.01 L772.03 166.25 L772.51 166.49 L772.99 166.73 L773.47 166.96 L773.94 167.19 L774.42 167.42 L774.90 167.64 L775.38 167.86 L775.86 168.08 L776.34 168.30 L776.82 168.51 L777.30 168.72 L777.78 168.93 L778.26 169.14 L778.74 169.34 L779.21 169.54 L779.69 169.74 L780.17 169.94 L780.65 170.14 L781.13 170.33 L781.61 170.52 L782.09 170.71 L782.57 170.90 L783.05 171.08 L783.53 171.27 L784.01 171.45 L784.49 171.63 L784.96 171.81 L785.44 171.98 L785.92 172.16 L786.40 172.33 L786.88 172.50 L787.36 172.67 L787.84 172.84 L788.32 173.00 L788.80 173.17 L789.28 173.33 L789.76 173.49 L790.23 173.65 L790.71 173.81 L791.19 173.96 L791.67 174.12 L792.15 174.27 L792.63 174.42 L793.11 174.57 L793.59 174.72 L794.07 174.87 L794.55 175.01 L795.03 175.16 L795.50 175.30 L795.98 175.44 L796.46 175.58 L796.94 175.72 L797.42 175.86 L797.90 176.00 L798.38 176.14 L798.86 176.27 L799.34 176.40 L799.82 176.54 L800.30 176.67 L800.78 176.80 L801.25 176.93 L801.73 177.05 L802.21 177.18 L802.69 177.30 L803.17 177.43 L803.65 177.55 L804.65 177.81" stroke="#008000" stroke-width="2.3" stroke-dasharray="11.7 2.8 4 2.8"/>
</g>
<path d="M612.00 181.2 v-3.0 M612.00 31.2 v3.0 M621.58 181.2 v-2.0 M621.58 31.2 v2.0 M631.16 181.2 v-2.0 M631.16 31.2 v2.0 M640.75 181.2 v-2.0 M640.75 31.2 v2.0 M650.33 181.2 v-2.0 M650.33 31.2 v2.0 M659.91 181.2 v-3.0 M659.91 31.2 v3.0 M669.50 181.2 v-2.0 M669.50 31.2 v2.0 M679.08 181.2 v-2.0 M679.08 31.2 v2.0 M688.66 181.2 v-2.0 M688.66 31.2 v2.0 M698.24 181.2 v-2.0 M698.24 31.2 v2.0 M707.83 181.2 v-3.0 M707.83 31.2 v3.0 M717.41 181.2 v-2.0 M717.41 31.2 v2.0 M726.99 181.2 v-2.0 M726.99 31.2 v2.0 M736.57 181.2 v-2.0 M736.57 31.2 v2.0 M746.15 181.2 v-2.0 M746.15 31.2 v2.0 M755.74 181.2 v-3.0 M755.74 31.2 v3.0 M765.32 181.2 v-2.0 M765.32 31.2 v2.0 M774.90 181.2 v-2.0 M774.90 31.2 v2.0 M784.49 181.2 v-2.0 M784.49 31.2 v2.0 M794.07 181.2 v-2.0 M794.07 31.2 v2.0 M803.65 181.2 v-3.0 M803.65 31.2 v3.0 M608.1 179.90 h2.0 M807.8 179.90 h-2.0 M608.1 171.40 h3.0 M807.8 171.40 h-3.0 M608.1 162.90 h2.0 M807.8 162.90 h-2.0 M608.1 154.40 h2.0 M807.8 154.40 h-2.0 M608.1 145.90 h2.0 M807.8 145.90 h-2.0 M608.1 137.40 h3.0 M807.8 137.40 h-3.0 M608.1 128.90 h2.0 M807.8 128.90 h-2.0 M608.1 120.40 h2.0 M807.8 120.40 h-2.0 M608.1 111.90 h2.0 M807.8 111.90 h-2.0 M608.1 103.40 h3.0 M807.8 103.40 h-3.0 M608.1 94.90 h2.0 M807.8 94.90 h-2.0 M608.1 86.40 h2.0 M807.8 86.40 h-2.0 M608.1 77.90 h2.0 M807.8 77.90 h-2.0 M608.1 69.40 h3.0 M807.8 69.40 h-3.0 M608.1 60.90 h2.0 M807.8 60.90 h-2.0 M608.1 52.40 h2.0 M807.8 52.40 h-2.0 M608.1 43.90 h2.0 M807.8 43.90 h-2.0 M608.1 35.40 h3.0 M807.8 35.40 h-3.0" stroke="#1c1c1c" stroke-width="0.95" fill="none"/>
<rect x="608.1" y="31.2" width="199.70" height="150.00" fill="none" stroke="#1c1c1c" stroke-width="1.15"/>
<g font-family="Liberation Serif, serif" font-size="18" fill="#000"><text x="605.1" y="176.20" text-anchor="end">0.02</text><text x="605.1" y="142.20" text-anchor="end">0.04</text><text x="605.1" y="108.20" text-anchor="end">0.06</text><text x="605.1" y="74.20" text-anchor="end">0.08</text><text x="605.1" y="40.20" text-anchor="end">0.10</text><text x="612.00" y="197.70" text-anchor="middle">0</text><text x="659.91" y="197.70" text-anchor="middle">5</text><text x="707.83" y="197.70" text-anchor="middle">10</text><text x="755.74" y="197.70" text-anchor="middle">15</text><text x="803.65" y="197.70" text-anchor="middle">20</text></g>
<g transform="translate(656.20,20.90)" fill="none" stroke="#000" stroke-linecap="round" stroke-linejoin="round"><path d="M0.1 -6.6 C0.7 -8.0 1.6 -8.7 3.0 -8.75 L9.7 -9.05" stroke-width="1.15"/><path d="M5.9 -8.7 C5.3 -6.6 4.3 -4.2 3.75 -2.3 C3.3 -0.7 4.3 -0.1 5.7 -1.0" stroke-width="1.55"/></g>
<text x="760.70" y="20.90" text-anchor="end" word-spacing="-0.7" font-family="Liberation Serif, serif" font-size="23.2" fill="#000">= <tspan dx="2.2">10</tspan><tspan dx="-2.2"> fm/c</tspan></text>
<clipPath id="c3"><rect x="62.5" y="242.8" width="197.7" height="147.89999999999998"/></clipPath>
<g clip-path="url(#c3)" fill="none" stroke-linecap="butt" stroke-linejoin="round">
<path d="M65.30 299.70 L66.30 299.70 L66.77 299.70 L67.25 299.70 L67.72 299.70 L68.20 299.70 L68.67 299.70 L69.14 299.70 L69.62 299.70 L70.09 299.70 L70.57 299.70 L71.04 299.70 L71.51 299.70 L71.99 299.70 L72.46 299.70 L72.94 299.70 L73.41 299.70 L73.88 299.70 L74.36 299.70 L74.83 299.70 L75.31 299.70 L75.78 299.69 L76.25 299.69 L76.73 299.69 L77.20 299.68 L77.68 299.67 L78.15 299.65 L78.62 299.63 L79.10 299.59 L79.57 299.55 L80.05 299.50 L80.52 299.44 L80.99 299.37 L81.47 299.27 L81.94 299.17 L82.42 299.04 L82.89 298.90 L83.36 298.74 L83.84 298.56 L84.31 298.37 L84.79 298.15 L85.26 297.92 L85.73 297.67 L86.21 297.41 L86.68 297.13 L87.16 296.83 L87.63 296.52 L88.10 296.20 L88.58 295.87 L89.05 295.52 L89.53 295.17 L90.00 294.81 L90.47 294.44 L90.95 294.07 L91.42 293.69 L91.90 293.31 L92.37 292.92 L92.84 292.53 L93.32 292.14 L93.79 291.75 L94.27 291.36 L94.74 290.96 L95.21 290.57 L95.69 290.18 L96.16 289.79 L96.64 289.40 L97.11 289.01 L97.58 288.63 L98.06 288.25 L98.53 287.87 L99.01 287.49 L99.48 287.12 L99.95 286.75 L100.43 286.38 L100.90 286.02 L101.38 285.66 L101.85 285.30 L102.32 284.95 L102.80 284.60 L103.27 284.26 L103.75 283.92 L104.22 283.59 L104.69 283.25 L105.17 282.93 L105.64 282.60 L106.12 282.28 L106.59 281.96 L107.06 281.65 L107.54 281.34 L108.01 281.04 L108.49 280.74 L108.96 280.44 L109.43 280.15 L109.91 279.86 L110.38 279.57 L110.86 279.29 L111.33 279.01 L111.80 278.73 L112.28 278.46 L112.75 278.19 L113.23 277.93 L113.70 277.66 L114.17 277.40 L114.65 277.15 L115.12 276.89 L115.60 276.64 L116.07 276.40 L116.54 276.15 L117.02 275.91 L117.49 275.67 L117.97 275.44 L118.44 275.20 L118.91 274.97 L119.39 274.74 L119.86 274.52 L120.34 274.29 L120.81 274.07 L121.28 273.86 L121.76 273.64 L122.23 273.43 L122.71 273.22 L123.18 273.01 L123.65 272.80 L124.13 272.60 L124.60 272.39 L125.08 272.19 L125.55 272.00 L126.02 271.80 L126.50 271.61 L126.97 271.41 L127.45 271.22 L127.92 271.04 L128.39 270.85 L128.87 270.66 L129.34 270.48 L129.82 270.30 L130.29 270.12 L130.76 269.94 L131.24 269.77 L131.71 269.59 L132.19 269.42 L132.66 269.25 L133.13 269.08 L133.61 268.91 L134.08 268.74 L134.56 268.58 L135.03 268.42 L135.50 268.25 L135.98 268.09 L136.45 267.93 L136.93 267.77 L137.40 267.62 L137.87 267.46 L138.35 267.31 L138.82 267.15 L139.30 267.00 L139.77 266.85 L140.24 266.70 L140.72 266.55 L141.19 266.41 L141.67 266.26 L142.14 266.12 L142.61 265.97 L143.09 265.83 L143.56 265.69 L144.04 265.55 L144.51 265.41 L144.98 265.27 L145.46 265.13 L145.93 265.00 L146.41 264.86 L146.88 264.73 L147.35 264.60 L147.83 264.46 L148.30 264.33 L148.78 264.20 L149.25 264.07 L149.72 263.94 L150.20 263.82 L150.67 263.69 L151.15 263.56 L151.62 263.44 L152.09 263.31 L152.57 263.19 L153.04 263.07 L153.52 262.95 L153.99 262.82 L154.46 262.70 L154.94 262.58 L155.41 262.47 L155.89 262.35 L156.36 262.23 L156.83 262.11 L157.31 262.00 L157.78 261.88 L158.26 261.77 L158.73 261.65 L159.20 261.54 L159.68 261.43 L160.15 261.32 L160.63 261.21 L161.10 261.10 L161.57 260.99 L162.05 260.88 L162.52 260.77 L163.00 260.66 L163.47 260.55 L163.94 260.45 L164.42 260.34 L164.89 260.24 L165.37 260.13 L165.84 260.03 L166.31 259.92 L166.79 259.82 L167.26 259.72 L167.74 259.61 L168.21 259.51 L168.68 259.41 L169.16 259.31 L169.63 259.21 L170.11 259.11 L170.58 259.01 L171.05 258.92 L171.53 258.82 L172.00 258.72 L172.48 258.62 L172.95 258.53 L173.42 258.43 L173.90 258.34 L174.37 258.24 L174.85 258.15 L175.32 258.05 L175.79 257.96 L176.27 257.87 L176.74 257.77 L177.22 257.68 L177.69 257.59 L178.16 257.50 L178.64 257.41 L179.11 257.32 L179.59 257.23 L180.06 257.14 L180.53 257.05 L181.01 256.96 L181.48 256.87 L181.96 256.78 L182.43 256.70 L182.90 256.61 L183.38 256.52 L183.85 256.44 L184.33 256.35 L184.80 256.26 L185.27 256.18 L185.75 256.09 L186.22 256.01 L186.70 255.93 L187.17 255.84 L187.64 255.76 L188.12 255.68 L188.59 255.59 L189.07 255.51 L189.54 255.43 L190.01 255.35 L190.49 255.27 L190.96 255.19 L191.44 255.11 L191.91 255.02 L192.38 254.94 L192.86 254.87 L193.33 254.79 L193.81 254.71 L194.28 254.63 L194.75 254.55 L195.23 254.47 L195.70 254.39 L196.18 254.32 L196.65 254.24 L197.12 254.16 L197.60 254.09 L198.07 254.01 L198.55 253.93 L199.02 253.86 L199.49 253.78 L199.97 253.71 L200.44 253.63 L200.92 253.56 L201.39 253.49 L201.86 253.41 L202.34 253.34 L202.81 253.27 L203.29 253.19 L203.76 253.12 L204.23 253.05 L204.71 252.97 L205.18 252.90 L205.66 252.83 L206.13 252.76 L206.60 252.69 L207.08 252.62 L207.55 252.55 L208.03 252.48 L208.50 252.41 L208.97 252.34 L209.45 252.27 L209.92 252.20 L210.40 252.13 L210.87 252.06 L211.34 251.99 L211.82 251.92 L212.29 251.85 L212.77 251.79 L213.24 251.72 L213.71 251.65 L214.19 251.58 L214.66 251.52 L215.14 251.45 L215.61 251.38 L216.08 251.32 L216.56 251.25 L217.03 251.18 L217.51 251.12 L217.98 251.05 L218.45 250.99 L218.93 250.92 L219.40 250.86 L219.88 250.79 L220.35 250.73 L220.82 250.66 L221.30 250.60 L221.77 250.54 L222.25 250.47 L222.72 250.41 L223.19 250.35 L223.67 250.28 L224.14 250.22 L224.62 250.16 L225.09 250.09 L225.56 250.03 L226.04 249.97 L226.51 249.91 L226.99 249.85 L227.46 249.78 L227.93 249.72 L228.41 249.66 L228.88 249.60 L229.36 249.54 L229.83 249.48 L230.30 249.42 L230.78 249.36 L231.25 249.30 L231.73 249.24 L232.20 249.18 L232.67 249.12 L233.15 249.06 L233.62 249.00 L234.10 248.94 L234.57 248.88 L235.04 248.83 L235.52 248.77 L235.99 248.71 L236.47 248.65 L236.94 248.59 L237.41 248.53 L237.89 248.48 L238.36 248.42 L238.84 248.36 L239.31 248.31 L239.78 248.25 L240.26 248.19 L240.73 248.13 L241.21 248.08 L241.68 248.02 L242.15 247.97 L242.63 247.91 L243.10 247.85 L243.58 247.80 L244.05 247.74 L244.52 247.69 L245.00 247.63 L245.47 247.58 L245.95 247.52 L246.42 247.47 L246.89 247.41 L247.37 247.36 L247.84 247.30 L248.32 247.25 L248.79 247.19 L249.26 247.14 L249.74 247.09 L250.21 247.03 L250.69 246.98 L251.16 246.93 L251.63 246.87 L252.11 246.82 L252.58 246.77 L253.06 246.71 L253.53 246.66 L254.00 246.61 L254.48 246.56 L254.95 246.50 L255.43 246.45 L255.90 246.40 L256.90 246.29" stroke="#ff0000" stroke-width="2.3" stroke-dasharray="4.9 2.8"/>
<path d="M65.30 299.70 L66.30 299.70 L66.77 299.70 L67.25 299.70 L67.72 299.70 L68.20 299.70 L68.67 299.70 L69.14 299.70 L69.62 299.70 L70.09 299.70 L70.57 299.70 L71.04 299.70 L71.51 299.70 L71.99 299.70 L72.46 299.70 L72.94 299.70 L73.41 299.70 L73.88 299.70 L74.36 299.70 L74.83 299.70 L75.31 299.70 L75.78 299.70 L76.25 299.70 L76.73 299.70 L77.20 299.70 L77.68 299.70 L78.15 299.70 L78.62 299.70 L79.10 299.71 L79.57 299.71 L80.05 299.72 L80.52 299.73 L80.99 299.74 L81.47 299.75 L81.94 299.77 L82.42 299.79 L82.89 299.82 L83.36 299.86 L83.84 299.91 L84.31 299.96 L84.79 300.02 L85.26 300.10 L85.73 300.18 L86.21 300.27 L86.68 300.38 L87.16 300.50 L87.63 300.63 L88.10 300.77 L88.58 300.93 L89.05 301.10 L89.53 301.28 L90.00 301.48 L90.47 301.69 L90.95 301.91 L91.42 302.14 L91.90 302.39 L92.37 302.64 L92.84 302.91 L93.32 303.19 L93.79 303.48 L94.27 303.77 L94.74 304.08 L95.21 304.40 L95.69 304.72 L96.16 305.06 L96.64 305.40 L97.11 305.75 L97.58 306.10 L98.06 306.46 L98.53 306.83 L99.01 307.20 L99.48 307.58 L99.95 307.97 L100.43 308.35 L100.90 308.74 L101.38 309.14 L101.85 309.54 L102.32 309.94 L102.80 310.34 L103.27 310.75 L103.75 311.16 L104.22 311.57 L104.69 311.98 L105.17 312.40 L105.64 312.81 L106.12 313.23 L106.59 313.64 L107.06 314.06 L107.54 314.48 L108.01 314.90 L108.49 315.32 L108.96 315.74 L109.43 316.15 L109.91 316.57 L110.38 316.99 L110.86 317.41 L111.33 317.82 L111.80 318.24 L112.28 318.65 L112.75 319.07 L113.23 319.48 L113.70 319.89 L114.17 320.30 L114.65 320.71 L115.12 321.12 L115.60 321.53 L116.07 321.94 L116.54 322.34 L117.02 322.74 L117.49 323.14 L117.97 323.54 L118.44 323.94 L118.91 324.34 L119.39 324.73 L119.86 325.13 L120.34 325.52 L120.81 325.91 L121.28 326.29 L121.76 326.68 L122.23 327.06 L122.71 327.45 L123.18 327.83 L123.65 328.21 L124.13 328.58 L124.60 328.96 L125.08 329.33 L125.55 329.70 L126.02 330.07 L126.50 330.44 L126.97 330.80 L127.45 331.17 L127.92 331.53 L128.39 331.89 L128.87 332.25 L129.34 332.60 L129.82 332.96 L130.29 333.31 L130.76 333.66 L131.24 334.01 L131.71 334.35 L132.19 334.70 L132.66 335.04 L133.13 335.38 L133.61 335.72 L134.08 336.06 L134.56 336.39 L135.03 336.73 L135.50 337.06 L135.98 337.39 L136.45 337.72 L136.93 338.04 L137.40 338.37 L137.87 338.69 L138.35 339.01 L138.82 339.33 L139.30 339.65 L139.77 339.96 L140.24 340.28 L140.72 340.59 L141.19 340.90 L141.67 341.21 L142.14 341.52 L142.61 341.82 L143.09 342.13 L143.56 342.43 L144.04 342.73 L144.51 343.03 L144.98 343.33 L145.46 343.62 L145.93 343.92 L146.41 344.21 L146.88 344.50 L147.35 344.79 L147.83 345.08 L148.30 345.37 L148.78 345.65 L149.25 345.94 L149.72 346.22 L150.20 346.50 L150.67 346.78 L151.15 347.06 L151.62 347.33 L152.09 347.61 L152.57 347.88 L153.04 348.15 L153.52 348.43 L153.99 348.69 L154.46 348.96 L154.94 349.23 L155.41 349.49 L155.89 349.76 L156.36 350.02 L156.83 350.28 L157.31 350.54 L157.78 350.80 L158.26 351.06 L158.73 351.32 L159.20 351.57 L159.68 351.82 L160.15 352.08 L160.63 352.33 L161.10 352.58 L161.57 352.83 L162.05 353.07 L162.52 353.32 L163.00 353.56 L163.47 353.81 L163.94 354.05 L164.42 354.29 L164.89 354.53 L165.37 354.77 L165.84 355.01 L166.31 355.25 L166.79 355.48 L167.26 355.72 L167.74 355.95 L168.21 356.18 L168.68 356.42 L169.16 356.65 L169.63 356.88 L170.11 357.10 L170.58 357.33 L171.05 357.56 L171.53 357.78 L172.00 358.01 L172.48 358.23 L172.95 358.45 L173.42 358.67 L173.90 358.89 L174.37 359.11 L174.85 359.33 L175.32 359.55 L175.79 359.76 L176.27 359.98 L176.74 360.19 L177.22 360.41 L177.69 360.62 L178.16 360.83 L178.64 361.04 L179.11 361.25 L179.59 361.46 L180.06 361.67 L180.53 361.88 L181.01 362.08 L181.48 362.29 L181.96 362.49 L182.43 362.69 L182.90 362.90 L183.38 363.10 L183.85 363.30 L184.33 363.50 L184.80 363.70 L185.27 363.90 L185.75 364.09 L186.22 364.29 L186.70 364.49 L187.17 364.68 L187.64 364.88 L188.12 365.07 L188.59 365.26 L189.07 365.45 L189.54 365.65 L190.01 365.84 L190.49 366.03 L190.96 366.21 L191.44 366.40 L191.91 366.59 L192.38 366.78 L192.86 366.96 L193.33 367.15 L193.81 367.33 L194.28 367.52 L194.75 367.70 L195.23 367.88 L195.70 368.06 L196.18 368.24 L196.65 368.42 L197.12 368.60 L197.60 368.78 L198.07 368.96 L198.55 369.14 L199.02 369.31 L199.49 369.49 L199.97 369.67 L200.44 369.84 L200.92 370.01 L201.39 370.19 L201.86 370.36 L202.34 370.53 L202.81 370.70 L203.29 370.87 L203.76 371.04 L204.23 371.21 L204.71 371.38 L205.18 371.55 L205.66 371.72 L206.13 371.89 L206.60 372.05 L207.08 372.22 L207.55 372.38 L208.03 372.55 L208.50 372.71 L208.97 372.88 L209.45 373.04 L209.92 373.20 L210.40 373.36 L210.87 373.52 L211.34 373.68 L211.82 373.85 L212.29 374.00 L212.77 374.16 L213.24 374.32 L213.71 374.48 L214.19 374.64 L214.66 374.79 L215.14 374.95 L215.61 375.11 L216.08 375.26 L216.56 375.42 L217.03 375.57 L217.51 375.72 L217.98 375.88 L218.45 376.03 L218.93 376.18 L219.40 376.33 L219.88 376.48 L220.35 376.63 L220.82 376.78 L221.30 376.93 L221.77 377.08 L222.25 377.23 L222.72 377.38 L223.19 377.53 L223.67 377.67 L224.14 377.82 L224.62 377.97 L225.09 378.11 L225.56 378.26 L226.04 378.40 L226.51 378.54 L226.99 378.69 L227.46 378.83 L227.93 378.97 L228.41 379.12 L228.88 379.26 L229.36 379.40 L229.83 379.54 L230.30 379.68 L230.78 379.82 L231.25 379.96 L231.73 380.10 L232.20 380.24 L232.67 380.38 L233.15 380.52 L233.62 380.65 L234.10 380.79 L234.57 380.93 L235.04 381.06 L235.52 381.20 L235.99 381.33 L236.47 381.47 L236.94 381.60 L237.41 381.74 L237.89 381.87 L238.36 382.00 L238.84 382.14 L239.31 382.27 L239.78 382.40 L240.26 382.53 L240.73 382.67 L241.21 382.80 L241.68 382.93 L242.15 383.06 L242.63 383.19 L243.10 383.32 L243.58 383.44 L244.05 383.57 L244.52 383.70 L245.00 383.83 L245.47 383.96 L245.95 384.08 L246.42 384.21 L246.89 384.34 L247.37 384.46 L247.84 384.59 L248.32 384.71 L248.79 384.84 L249.26 384.96 L249.74 385.09 L250.21 385.21 L250.69 385.34 L251.16 385.46 L251.63 385.58 L252.11 385.70 L252.58 385.83 L253.06 385.95 L253.53 386.07 L254.00 386.19 L254.48 386.31 L254.95 386.43 L255.43 386.55 L255.90 386.67 L256.90 386.93" stroke="#000084" stroke-width="2.3" stroke-dasharray="11.7 2.8"/>
</g>
<path d="M66.30 390.7 v-3.0 M66.30 242.8 v3.0 M75.78 390.7 v-2.0 M75.78 242.8 v2.0 M85.26 390.7 v-2.0 M85.26 242.8 v2.0 M94.74 390.7 v-2.0 M94.74 242.8 v2.0 M104.22 390.7 v-2.0 M104.22 242.8 v2.0 M113.70 390.7 v-3.0 M113.70 242.8 v3.0 M123.18 390.7 v-2.0 M123.18 242.8 v2.0 M132.66 390.7 v-2.0 M132.66 242.8 v2.0 M142.14 390.7 v-2.0 M142.14 242.8 v2.0 M151.62 390.7 v-2.0 M151.62 242.8 v2.0 M161.10 390.7 v-3.0 M161.10 242.8 v3.0 M170.58 390.7 v-2.0 M170.58 242.8 v2.0 M180.06 390.7 v-2.0 M180.06 242.8 v2.0 M189.54 390.7 v-2.0 M189.54 242.8 v2.0 M199.02 390.7 v-2.0 M199.02 242.8 v2.0 M208.50 390.7 v-3.0 M208.50 242.8 v3.0 M217.98 390.7 v-2.0 M217.98 242.8 v2.0 M227.46 390.7 v-2.0 M227.46 242.8 v2.0 M236.94 390.7 v-2.0 M236.94 242.8 v2.0 M246.42 390.7 v-2.0 M246.42 242.8 v2.0 M255.90 390.7 v-3.0 M255.90 242.8 v3.0 M62.5 388.95 h2.0 M260.2 388.95 h-2.0 M62.5 383.70 h2.0 M260.2 383.70 h-2.0 M62.5 378.45 h3.0 M260.2 378.45 h-3.0 M62.5 373.20 h2.0 M260.2 373.20 h-2.0 M62.5 367.95 h2.0 M260.2 367.95 h-2.0 M62.5 362.70 h2.0 M260.2 362.70 h-2.0 M62.5 357.45 h2.0 M260.2 357.45 h-2.0 M62.5 352.20 h3.0 M260.2 352.20 h-3.0 M62.5 346.95 h2.0 M260.2 346.95 h-2.0 M62.5 341.70 h2.0 M260.2 341.70 h-2.0 M62.5 336.45 h2.0 M260.2 336.45 h-2.0 M62.5 331.20 h2.0 M260.2 331.20 h-2.0 M62.5 325.95 h3.0 M260.2 325.95 h-3.0 M62.5 320.70 h2.0 M260.2 320.70 h-2.0 M62.5 315.45 h2.0 M260.2 315.45 h-2.0 M62.5 310.20 h2.0 M260.2 310.20 h-2.0 M62.5 304.95 h2.0 M260.2 304.95 h-2.0 M62.5 299.70 h3.0 M260.2 299.70 h-3.0 M62.5 294.45 h2.0 M260.2 294.45 h-2.0 M62.5 289.20 h2.0 M260.2 289.20 h-2.0 M62.5 283.95 h2.0 M260.2 283.95 h-2.0 M62.5 278.70 h2.0 M260.2 278.70 h-2.0 M62.5 273.45 h3.0 M260.2 273.45 h-3.0 M62.5 268.20 h2.0 M260.2 268.20 h-2.0 M62.5 262.95 h2.0 M260.2 262.95 h-2.0 M62.5 257.70 h2.0 M260.2 257.70 h-2.0 M62.5 252.45 h2.0 M260.2 252.45 h-2.0 M62.5 247.20 h3.0 M260.2 247.20 h-3.0" stroke="#1c1c1c" stroke-width="0.95" fill="none"/>
<rect x="62.5" y="242.8" width="197.70" height="147.90" fill="none" stroke="#1c1c1c" stroke-width="1.15"/>
<g font-family="Liberation Serif, serif" font-size="18" fill="#000"><text x="59.5" y="383.25" text-anchor="end">0.85</text><text x="59.5" y="357.00" text-anchor="end">0.90</text><text x="59.5" y="330.75" text-anchor="end">0.95</text><text x="59.5" y="304.50" text-anchor="end">1.00</text><text x="59.5" y="278.25" text-anchor="end">1.05</text><text x="59.5" y="252.00" text-anchor="end">1.10</text><text x="66.30" y="407.80" text-anchor="middle">0</text><text x="113.70" y="407.80" text-anchor="middle">5</text><text x="161.10" y="407.80" text-anchor="middle">10</text><text x="208.50" y="407.80" text-anchor="middle">15</text><text x="255.90" y="407.80" text-anchor="middle">20</text></g>
<text x="161.35" y="432.60" text-anchor="middle" font-family="Liberation Serif, serif" font-size="18" fill="#000">r [fm]</text>
<clipPath id="c4"><rect x="334.1" y="239.4" width="199.89999999999998" height="149.99999999999997"/></clipPath>
<g clip-path="url(#c4)" fill="none" stroke-linecap="butt" stroke-linejoin="round">
<path d="M337.00 301.31 L338.00 301.31 L338.48 301.31 L338.96 301.32 L339.44 301.32 L339.92 301.33 L340.40 301.34 L340.88 301.35 L341.36 301.36 L341.84 301.37 L342.32 301.39 L342.80 301.41 L343.28 301.43 L343.76 301.45 L344.24 301.47 L344.72 301.50 L345.20 301.52 L345.68 301.55 L346.16 301.58 L346.64 301.62 L347.12 301.65 L347.60 301.69 L348.07 301.72 L348.55 301.76 L349.03 301.80 L349.51 301.85 L349.99 301.89 L350.47 301.94 L350.95 301.99 L351.43 302.04 L351.91 302.09 L352.39 302.14 L352.87 302.19 L353.35 302.25 L353.83 302.31 L354.31 302.36 L354.79 302.42 L355.27 302.49 L355.75 302.55 L356.23 302.61 L356.71 302.68 L357.19 302.74 L357.67 302.81 L358.15 302.88 L358.63 302.95 L359.11 303.02 L359.59 303.09 L360.07 303.16 L360.55 303.23 L361.03 303.30 L361.51 303.38 L361.99 303.45 L362.47 303.52 L362.95 303.60 L363.43 303.67 L363.91 303.75 L364.39 303.82 L364.87 303.89 L365.35 303.97 L365.83 304.04 L366.31 304.11 L366.78 304.18 L367.26 304.25 L367.74 304.32 L368.22 304.38 L368.70 304.45 L369.18 304.51 L369.66 304.57 L370.14 304.63 L370.62 304.69 L371.10 304.75 L371.58 304.80 L372.06 304.85 L372.54 304.90 L373.02 304.94 L373.50 304.98 L373.98 305.02 L374.46 305.05 L374.94 305.09 L375.42 305.11 L375.90 305.14 L376.38 305.16 L376.86 305.18 L377.34 305.20 L377.82 305.21 L378.30 305.22 L378.78 305.23 L379.26 305.24 L379.74 305.24 L380.22 305.24 L380.70 305.25 L381.18 305.25 L381.66 305.25 L382.14 305.25 L382.62 305.25 L383.10 305.25 L383.58 305.25 L384.06 305.25 L384.54 305.25 L385.02 305.25 L385.50 305.25 L385.98 305.25 L386.45 305.25 L386.93 305.25 L387.41 305.25 L387.89 305.25 L388.37 305.25 L388.85 305.25 L389.33 305.24 L389.81 305.24 L390.29 305.23 L390.77 305.22 L391.25 305.20 L391.73 305.18 L392.21 305.15 L392.69 305.12 L393.17 305.07 L393.65 305.01 L394.13 304.95 L394.61 304.87 L395.09 304.77 L395.57 304.67 L396.05 304.55 L396.53 304.41 L397.01 304.27 L397.49 304.10 L397.97 303.93 L398.45 303.74 L398.93 303.53 L399.41 303.32 L399.89 303.08 L400.37 302.84 L400.85 302.59 L401.33 302.32 L401.81 302.04 L402.29 301.75 L402.77 301.46 L403.25 301.15 L403.73 300.83 L404.21 300.51 L404.69 300.18 L405.16 299.84 L405.64 299.49 L406.12 299.14 L406.60 298.79 L407.08 298.42 L407.56 298.06 L408.04 297.69 L408.52 297.32 L409.00 296.94 L409.48 296.56 L409.96 296.18 L410.44 295.80 L410.92 295.42 L411.40 295.03 L411.88 294.64 L412.36 294.26 L412.84 293.87 L413.32 293.48 L413.80 293.09 L414.28 292.70 L414.76 292.32 L415.24 291.93 L415.72 291.54 L416.20 291.16 L416.68 290.77 L417.16 290.39 L417.64 290.01 L418.12 289.63 L418.60 289.25 L419.08 288.87 L419.56 288.50 L420.04 288.12 L420.52 287.75 L421.00 287.38 L421.48 287.01 L421.96 286.65 L422.44 286.28 L422.92 285.92 L423.40 285.56 L423.88 285.20 L424.36 284.85 L424.83 284.50 L425.31 284.15 L425.79 283.80 L426.27 283.45 L426.75 283.11 L427.23 282.77 L427.71 282.43 L428.19 282.09 L428.67 281.76 L429.15 281.43 L429.63 281.10 L430.11 280.77 L430.59 280.45 L431.07 280.12 L431.55 279.80 L432.03 279.49 L432.51 279.17 L432.99 278.86 L433.47 278.55 L433.95 278.24 L434.43 277.93 L434.91 277.63 L435.39 277.33 L435.87 277.03 L436.35 276.73 L436.83 276.44 L437.31 276.15 L437.79 275.86 L438.27 275.57 L438.75 275.28 L439.23 275.00 L439.71 274.72 L440.19 274.44 L440.67 274.16 L441.15 273.88 L441.63 273.61 L442.11 273.34 L442.59 273.07 L443.07 272.80 L443.54 272.54 L444.02 272.27 L444.50 272.01 L444.98 271.75 L445.46 271.49 L445.94 271.24 L446.42 270.98 L446.90 270.73 L447.38 270.48 L447.86 270.23 L448.34 269.99 L448.82 269.74 L449.30 269.50 L449.78 269.25 L450.26 269.01 L450.74 268.78 L451.22 268.54 L451.70 268.30 L452.18 268.07 L452.66 267.84 L453.14 267.61 L453.62 267.38 L454.10 267.15 L454.58 266.93 L455.06 266.70 L455.54 266.48 L456.02 266.26 L456.50 266.04 L456.98 265.82 L457.46 265.61 L457.94 265.39 L458.42 265.18 L458.90 264.96 L459.38 264.75 L459.86 264.54 L460.34 264.33 L460.82 264.13 L461.30 263.92 L461.78 263.72 L462.26 263.51 L462.74 263.31 L463.21 263.11 L463.69 262.91 L464.17 262.71 L464.65 262.52 L465.13 262.32 L465.61 262.13 L466.09 261.93 L466.57 261.74 L467.05 261.55 L467.53 261.36 L468.01 261.17 L468.49 260.98 L468.97 260.80 L469.45 260.61 L469.93 260.43 L470.41 260.24 L470.89 260.06 L471.37 259.88 L471.85 259.70 L472.33 259.52 L472.81 259.34 L473.29 259.17 L473.77 258.99 L474.25 258.81 L474.73 258.64 L475.21 258.47 L475.69 258.29 L476.17 258.12 L476.65 257.95 L477.13 257.78 L477.61 257.61 L478.09 257.45 L478.57 257.28 L479.05 257.11 L479.53 256.95 L480.01 256.79 L480.49 256.62 L480.97 256.46 L481.45 256.30 L481.92 256.14 L482.40 255.98 L482.88 255.82 L483.36 255.66 L483.84 255.50 L484.32 255.35 L484.80 255.19 L485.28 255.04 L485.76 254.88 L486.24 254.73 L486.72 254.58 L487.20 254.42 L487.68 254.27 L488.16 254.12 L488.64 253.97 L489.12 253.82 L489.60 253.68 L490.08 253.53 L490.56 253.38 L491.04 253.23 L491.52 253.09 L492.00 252.94 L492.48 252.80 L492.96 252.66 L493.44 252.51 L493.92 252.37 L494.40 252.23 L494.88 252.09 L495.36 251.95 L495.84 251.81 L496.32 251.67 L496.80 251.53 L497.28 251.40 L497.76 251.26 L498.24 251.12 L498.72 250.99 L499.20 250.85 L499.68 250.72 L500.16 250.58 L500.64 250.45 L501.12 250.32 L501.59 250.18 L502.07 250.05 L502.55 249.92 L503.03 249.79 L503.51 249.66 L503.99 249.53 L504.47 249.40 L504.95 249.27 L505.43 249.14 L505.91 249.02 L506.39 248.89 L506.87 248.76 L507.35 248.64 L507.83 248.51 L508.31 248.39 L508.79 248.26 L509.27 248.14 L509.75 248.02 L510.23 247.89 L510.71 247.77 L511.19 247.65 L511.67 247.53 L512.15 247.41 L512.63 247.29 L513.11 247.17 L513.59 247.05 L514.07 246.93 L514.55 246.81 L515.03 246.69 L515.51 246.58 L515.99 246.46 L516.47 246.34 L516.95 246.22 L517.43 246.11 L517.91 245.99 L518.39 245.88 L518.87 245.76 L519.35 245.65 L519.83 245.54 L520.30 245.42 L520.78 245.31 L521.26 245.20 L521.74 245.09 L522.22 244.97 L522.70 244.86 L523.18 244.75 L523.66 244.64 L524.14 244.53 L524.62 244.42 L525.10 244.31 L525.58 244.20 L526.06 244.09 L526.54 243.99 L527.02 243.88 L527.50 243.77 L527.98 243.66 L528.46 243.56 L528.94 243.45 L529.42 243.35 L529.90 243.24 L530.90 243.02" stroke="#ff0000" stroke-width="2.3" stroke-dasharray="4.9 2.8"/>
<path d="M337.00 306.27 L338.00 306.27 L338.48 306.27 L338.96 306.27 L339.44 306.27 L339.92 306.26 L340.40 306.26 L340.88 306.26 L341.36 306.25 L341.84 306.25 L342.32 306.24 L342.80 306.23 L343.28 306.23 L343.76 306.22 L344.24 306.21 L344.72 306.20 L345.20 306.19 L345.68 306.18 L346.16 306.17 L346.64 306.16 L347.12 306.14 L347.60 306.13 L348.07 306.12 L348.55 306.10 L349.03 306.09 L349.51 306.07 L349.99 306.06 L350.47 306.04 L350.95 306.02 L351.43 306.01 L351.91 305.99 L352.39 305.97 L352.87 305.95 L353.35 305.93 L353.83 305.91 L354.31 305.90 L354.79 305.88 L355.27 305.86 L355.75 305.84 L356.23 305.82 L356.71 305.80 L357.19 305.78 L357.67 305.76 L358.15 305.74 L358.63 305.71 L359.11 305.69 L359.59 305.67 L360.07 305.65 L360.55 305.63 L361.03 305.61 L361.51 305.59 L361.99 305.58 L362.47 305.56 L362.95 305.54 L363.43 305.52 L363.91 305.50 L364.39 305.48 L364.87 305.47 L365.35 305.45 L365.83 305.43 L366.31 305.42 L366.78 305.40 L367.26 305.39 L367.74 305.38 L368.22 305.36 L368.70 305.35 L369.18 305.34 L369.66 305.33 L370.14 305.32 L370.62 305.31 L371.10 305.30 L371.58 305.30 L372.06 305.29 L372.54 305.28 L373.02 305.28 L373.50 305.27 L373.98 305.27 L374.46 305.26 L374.94 305.26 L375.42 305.26 L375.90 305.26 L376.38 305.25 L376.86 305.25 L377.34 305.25 L377.82 305.25 L378.30 305.25 L378.78 305.25 L379.26 305.25 L379.74 305.25 L380.22 305.25 L380.70 305.25 L381.18 305.25 L381.66 305.25 L382.14 305.25 L382.62 305.25 L383.10 305.25 L383.58 305.25 L384.06 305.25 L384.54 305.25 L385.02 305.25 L385.50 305.25 L385.98 305.25 L386.45 305.25 L386.93 305.25 L387.41 305.25 L387.89 305.25 L388.37 305.25 L388.85 305.25 L389.33 305.25 L389.81 305.25 L390.29 305.25 L390.77 305.25 L391.25 305.25 L391.73 305.25 L392.21 305.26 L392.69 305.26 L393.17 305.26 L393.65 305.27 L394.13 305.28 L394.61 305.29 L395.09 305.30 L395.57 305.31 L396.05 305.33 L396.53 305.36 L397.01 305.38 L397.49 305.42 L397.97 305.45 L398.45 305.49 L398.93 305.54 L399.41 305.60 L399.89 305.66 L400.37 305.73 L400.85 305.80 L401.33 305.88 L401.81 305.97 L402.29 306.07 L402.77 306.17 L403.25 306.29 L403.73 306.41 L404.21 306.53 L404.69 306.67 L405.16 306.81 L405.64 306.96 L406.12 307.12 L406.60 307.29 L407.08 307.46 L407.56 307.64 L408.04 307.83 L408.52 308.02 L409.00 308.23 L409.48 308.44 L409.96 308.65 L410.44 308.87 L410.92 309.10 L411.40 309.34 L411.88 309.58 L412.36 309.82 L412.84 310.08 L413.32 310.34 L413.80 310.60 L414.28 310.87 L414.76 311.14 L415.24 311.42 L415.72 311.70 L416.20 311.99 L416.68 312.28 L417.16 312.58 L417.64 312.88 L418.12 313.18 L418.60 313.49 L419.08 313.80 L419.56 314.12 L420.04 314.44 L420.52 314.76 L421.00 315.08 L421.48 315.41 L421.96 315.74 L422.44 316.07 L422.92 316.41 L423.40 316.75 L423.88 317.09 L424.36 317.43 L424.83 317.77 L425.31 318.12 L425.79 318.47 L426.27 318.82 L426.75 319.17 L427.23 319.52 L427.71 319.87 L428.19 320.23 L428.67 320.59 L429.15 320.95 L429.63 321.30 L430.11 321.66 L430.59 322.03 L431.07 322.39 L431.55 322.75 L432.03 323.11 L432.51 323.48 L432.99 323.84 L433.47 324.21 L433.95 324.57 L434.43 324.94 L434.91 325.31 L435.39 325.67 L435.87 326.04 L436.35 326.41 L436.83 326.78 L437.31 327.14 L437.79 327.51 L438.27 327.88 L438.75 328.25 L439.23 328.62 L439.71 328.98 L440.19 329.35 L440.67 329.72 L441.15 330.09 L441.63 330.45 L442.11 330.82 L442.59 331.19 L443.07 331.56 L443.54 331.92 L444.02 332.29 L444.50 332.65 L444.98 333.02 L445.46 333.38 L445.94 333.75 L446.42 334.11 L446.90 334.47 L447.38 334.84 L447.86 335.20 L448.34 335.56 L448.82 335.92 L449.30 336.28 L449.78 336.64 L450.26 337.00 L450.74 337.36 L451.22 337.72 L451.70 338.07 L452.18 338.43 L452.66 338.78 L453.14 339.14 L453.62 339.49 L454.10 339.85 L454.58 340.20 L455.06 340.55 L455.54 340.90 L456.02 341.26 L456.50 341.61 L456.98 341.95 L457.46 342.30 L457.94 342.65 L458.42 343.00 L458.90 343.34 L459.38 343.69 L459.86 344.03 L460.34 344.38 L460.82 344.72 L461.30 345.06 L461.78 345.40 L462.26 345.74 L462.74 346.08 L463.21 346.42 L463.69 346.76 L464.17 347.09 L464.65 347.43 L465.13 347.76 L465.61 348.10 L466.09 348.43 L466.57 348.76 L467.05 349.09 L467.53 349.42 L468.01 349.75 L468.49 350.08 L468.97 350.41 L469.45 350.74 L469.93 351.06 L470.41 351.39 L470.89 351.71 L471.37 352.04 L471.85 352.36 L472.33 352.68 L472.81 353.00 L473.29 353.32 L473.77 353.64 L474.25 353.96 L474.73 354.28 L475.21 354.59 L475.69 354.91 L476.17 355.22 L476.65 355.54 L477.13 355.85 L477.61 356.16 L478.09 356.47 L478.57 356.78 L479.05 357.09 L479.53 357.40 L480.01 357.71 L480.49 358.02 L480.97 358.32 L481.45 358.63 L481.92 358.93 L482.40 359.23 L482.88 359.54 L483.36 359.84 L483.84 360.14 L484.32 360.44 L484.80 360.74 L485.28 361.04 L485.76 361.33 L486.24 361.63 L486.72 361.93 L487.20 362.22 L487.68 362.51 L488.16 362.81 L488.64 363.10 L489.12 363.39 L489.60 363.68 L490.08 363.97 L490.56 364.26 L491.04 364.55 L491.52 364.84 L492.00 365.12 L492.48 365.41 L492.96 365.69 L493.44 365.98 L493.92 366.26 L494.40 366.54 L494.88 366.82 L495.36 367.10 L495.84 367.38 L496.32 367.66 L496.80 367.94 L497.28 368.22 L497.76 368.50 L498.24 368.77 L498.72 369.05 L499.20 369.32 L499.68 369.60 L500.16 369.87 L500.64 370.14 L501.12 370.41 L501.59 370.68 L502.07 370.95 L502.55 371.22 L503.03 371.49 L503.51 371.76 L503.99 372.03 L504.47 372.29 L504.95 372.56 L505.43 372.82 L505.91 373.09 L506.39 373.35 L506.87 373.61 L507.35 373.87 L507.83 374.13 L508.31 374.39 L508.79 374.65 L509.27 374.91 L509.75 375.17 L510.23 375.43 L510.71 375.69 L511.19 375.94 L511.67 376.20 L512.15 376.45 L512.63 376.71 L513.11 376.96 L513.59 377.21 L514.07 377.46 L514.55 377.71 L515.03 377.96 L515.51 378.21 L515.99 378.46 L516.47 378.71 L516.95 378.96 L517.43 379.21 L517.91 379.45 L518.39 379.70 L518.87 379.94 L519.35 380.19 L519.83 380.43 L520.30 380.68 L520.78 380.92 L521.26 381.16 L521.74 381.40 L522.22 381.64 L522.70 381.88 L523.18 382.12 L523.66 382.36 L524.14 382.60 L524.62 382.84 L525.10 383.07 L525.58 383.31 L526.06 383.54 L526.54 383.78 L527.02 384.01 L527.50 384.25 L527.98 384.48 L528.46 384.71 L528.94 384.95 L529.42 385.18 L529.90 385.41 L530.90 385.89" stroke="#000084" stroke-width="2.3" stroke-dasharray="11.7 2.8"/>
</g>
<path d="M338.00 389.4 v-3.0 M338.00 239.4 v3.0 M347.60 389.4 v-2.0 M347.60 239.4 v2.0 M357.19 389.4 v-2.0 M357.19 239.4 v2.0 M366.78 389.4 v-2.0 M366.78 239.4 v2.0 M376.38 389.4 v-2.0 M376.38 239.4 v2.0 M385.98 389.4 v-3.0 M385.98 239.4 v3.0 M395.57 389.4 v-2.0 M395.57 239.4 v2.0 M405.16 389.4 v-2.0 M405.16 239.4 v2.0 M414.76 389.4 v-2.0 M414.76 239.4 v2.0 M424.36 389.4 v-2.0 M424.36 239.4 v2.0 M433.95 389.4 v-3.0 M433.95 239.4 v3.0 M443.54 389.4 v-2.0 M443.54 239.4 v2.0 M453.14 389.4 v-2.0 M453.14 239.4 v2.0 M462.74 389.4 v-2.0 M462.74 239.4 v2.0 M472.33 389.4 v-2.0 M472.33 239.4 v2.0 M481.92 389.4 v-3.0 M481.92 239.4 v3.0 M491.52 389.4 v-2.0 M491.52 239.4 v2.0 M501.12 389.4 v-2.0 M501.12 239.4 v2.0 M510.71 389.4 v-2.0 M510.71 239.4 v2.0 M520.30 389.4 v-2.0 M520.30 239.4 v2.0 M529.90 389.4 v-3.0 M529.90 239.4 v3.0 M334.1 387.96 h2.0 M534.0 387.96 h-2.0 M334.1 378.77 h2.0 M534.0 378.77 h-2.0 M334.1 369.58 h2.0 M534.0 369.58 h-2.0 M334.1 360.39 h2.0 M534.0 360.39 h-2.0 M334.1 351.20 h3.0 M534.0 351.20 h-3.0 M334.1 342.01 h2.0 M534.0 342.01 h-2.0 M334.1 332.82 h2.0 M534.0 332.82 h-2.0 M334.1 323.63 h2.0 M534.0 323.63 h-2.0 M334.1 314.44 h2.0 M534.0 314.44 h-2.0 M334.1 305.25 h3.0 M534.0 305.25 h-3.0 M334.1 296.06 h2.0 M534.0 296.06 h-2.0 M334.1 286.87 h2.0 M534.0 286.87 h-2.0 M334.1 277.68 h2.0 M534.0 277.68 h-2.0 M334.1 268.49 h2.0 M534.0 268.49 h-2.0 M334.1 259.30 h3.0 M534.0 259.30 h-3.0 M334.1 250.11 h2.0 M534.0 250.11 h-2.0 M334.1 240.92 h2.0 M534.0 240.92 h-2.0" stroke="#1c1c1c" stroke-width="0.95" fill="none"/>
<rect x="334.1" y="239.4" width="199.90" height="150.00" fill="none" stroke="#1c1c1c" stroke-width="1.15"/>
<g font-family="Liberation Serif, serif" font-size="18" fill="#000"><text x="331.1" y="356.00" text-anchor="end">0.95</text><text x="331.1" y="310.05" text-anchor="end">1.00</text><text x="331.1" y="264.10" text-anchor="end">1.05</text><text x="338.00" y="405.90" text-anchor="middle">0</text><text x="385.98" y="405.90" text-anchor="middle">5</text><text x="433.95" y="405.90" text-anchor="middle">10</text><text x="481.92" y="405.90" text-anchor="middle">15</text><text x="529.90" y="405.90" text-anchor="middle">20</text></g>
<text x="434.05" y="431.30" text-anchor="middle" font-family="Liberation Serif, serif" font-size="18" fill="#000">r [fm]</text>
<clipPath id="c5"><rect x="608.1" y="239.4" width="199.69999999999993" height="149.99999999999997"/></clipPath>
<g clip-path="url(#c5)" fill="none" stroke-linecap="butt" stroke-linejoin="round">
<path d="M611.00 291.18 L612.00 291.18 L612.48 291.18 L612.96 291.18 L613.44 291.19 L613.92 291.19 L614.40 291.20 L614.88 291.21 L615.35 291.22 L615.83 291.23 L616.31 291.24 L616.79 291.26 L617.27 291.27 L617.75 291.29 L618.23 291.31 L618.71 291.33 L619.19 291.35 L619.67 291.37 L620.15 291.40 L620.63 291.42 L621.11 291.45 L621.59 291.48 L622.06 291.51 L622.54 291.54 L623.02 291.58 L623.50 291.61 L623.98 291.65 L624.46 291.69 L624.94 291.73 L625.42 291.77 L625.90 291.81 L626.38 291.86 L626.86 291.90 L627.34 291.95 L627.82 292.00 L628.29 292.05 L628.77 292.10 L629.25 292.15 L629.73 292.21 L630.21 292.27 L630.69 292.33 L631.17 292.39 L631.65 292.45 L632.13 292.51 L632.61 292.58 L633.09 292.64 L633.57 292.71 L634.05 292.78 L634.52 292.85 L635.00 292.92 L635.48 293.00 L635.96 293.07 L636.44 293.15 L636.92 293.23 L637.40 293.31 L637.88 293.39 L638.36 293.48 L638.84 293.57 L639.32 293.65 L639.80 293.74 L640.28 293.83 L640.75 293.93 L641.23 294.02 L641.71 294.12 L642.19 294.21 L642.67 294.31 L643.15 294.42 L643.63 294.52 L644.11 294.62 L644.59 294.73 L645.07 294.84 L645.55 294.95 L646.03 295.06 L646.51 295.17 L646.99 295.29 L647.46 295.41 L647.94 295.52 L648.42 295.65 L648.90 295.77 L649.38 295.89 L649.86 296.02 L650.34 296.15 L650.82 296.28 L651.30 296.41 L651.78 296.54 L652.26 296.68 L652.74 296.81 L653.22 296.95 L653.69 297.09 L654.17 297.24 L654.65 297.38 L655.13 297.53 L655.61 297.68 L656.09 297.83 L656.57 297.98 L657.05 298.13 L657.53 298.29 L658.01 298.45 L658.49 298.60 L658.97 298.77 L659.45 298.93 L659.92 299.10 L660.40 299.26 L660.88 299.43 L661.36 299.60 L661.84 299.78 L662.32 299.95 L662.80 300.13 L663.28 300.31 L663.76 300.49 L664.24 300.67 L664.72 300.85 L665.20 301.04 L665.68 301.23 L666.16 301.42 L666.63 301.61 L667.11 301.80 L667.59 302.00 L668.07 302.19 L668.55 302.39 L669.03 302.59 L669.51 302.79 L669.99 303.00 L670.47 303.20 L670.95 303.41 L671.43 303.62 L671.91 303.83 L672.39 304.04 L672.86 304.25 L673.34 304.47 L673.82 304.68 L674.30 304.90 L674.78 305.12 L675.26 305.34 L675.74 305.56 L676.22 305.78 L676.70 306.00 L677.18 306.22 L677.66 306.45 L678.14 306.67 L678.62 306.90 L679.10 307.12 L679.57 307.35 L680.05 307.57 L680.53 307.80 L681.01 308.02 L681.49 308.25 L681.97 308.47 L682.45 308.70 L682.93 308.92 L683.41 309.14 L683.89 309.36 L684.37 309.58 L684.85 309.80 L685.33 310.02 L685.80 310.23 L686.28 310.44 L686.76 310.65 L687.24 310.86 L687.72 311.06 L688.20 311.26 L688.68 311.46 L689.16 311.65 L689.64 311.84 L690.12 312.02 L690.60 312.20 L691.08 312.37 L691.56 312.54 L692.03 312.70 L692.51 312.85 L692.99 313.00 L693.47 313.14 L693.95 313.27 L694.43 313.39 L694.91 313.51 L695.39 313.62 L695.87 313.72 L696.35 313.81 L696.83 313.90 L697.31 313.97 L697.79 314.04 L698.26 314.10 L698.74 314.15 L699.22 314.19 L699.70 314.23 L700.18 314.26 L700.66 314.29 L701.14 314.30 L701.62 314.32 L702.10 314.33 L702.58 314.34 L703.06 314.34 L703.54 314.35 L704.02 314.35 L704.50 314.35 L704.97 314.35 L705.45 314.35 L705.93 314.35 L706.41 314.35 L706.89 314.35 L707.37 314.35 L707.85 314.35 L708.33 314.35 L708.81 314.35 L709.29 314.35 L709.77 314.35 L710.25 314.35 L710.73 314.35 L711.20 314.35 L711.68 314.34 L712.16 314.33 L712.64 314.32 L713.12 314.30 L713.60 314.28 L714.08 314.25 L714.56 314.20 L715.04 314.15 L715.52 314.08 L716.00 314.00 L716.48 313.90 L716.96 313.79 L717.44 313.66 L717.91 313.51 L718.39 313.34 L718.87 313.15 L719.35 312.95 L719.83 312.72 L720.31 312.47 L720.79 312.21 L721.27 311.93 L721.75 311.62 L722.23 311.31 L722.71 310.97 L723.19 310.61 L723.67 310.25 L724.14 309.86 L724.62 309.46 L725.10 309.05 L725.58 308.63 L726.06 308.19 L726.54 307.74 L727.02 307.28 L727.50 306.81 L727.98 306.33 L728.46 305.85 L728.94 305.35 L729.42 304.85 L729.90 304.34 L730.37 303.83 L730.85 303.31 L731.33 302.79 L731.81 302.26 L732.29 301.73 L732.77 301.19 L733.25 300.65 L733.73 300.11 L734.21 299.57 L734.69 299.02 L735.17 298.48 L735.65 297.93 L736.13 297.38 L736.61 296.84 L737.08 296.29 L737.56 295.74 L738.04 295.19 L738.52 294.65 L739.00 294.10 L739.48 293.55 L739.96 293.01 L740.44 292.47 L740.92 291.93 L741.40 291.39 L741.88 290.85 L742.36 290.32 L742.84 289.78 L743.31 289.25 L743.79 288.72 L744.27 288.20 L744.75 287.67 L745.23 287.15 L745.71 286.63 L746.19 286.11 L746.67 285.60 L747.15 285.09 L747.63 284.58 L748.11 284.08 L748.59 283.57 L749.07 283.07 L749.54 282.58 L750.02 282.08 L750.50 281.59 L750.98 281.11 L751.46 280.62 L751.94 280.14 L752.42 279.66 L752.90 279.18 L753.38 278.71 L753.86 278.24 L754.34 277.78 L754.82 277.31 L755.30 276.85 L755.78 276.39 L756.25 275.94 L756.73 275.49 L757.21 275.04 L757.69 274.59 L758.17 274.15 L758.65 273.71 L759.13 273.28 L759.61 272.84 L760.09 272.41 L760.57 271.98 L761.05 271.56 L761.53 271.14 L762.01 270.72 L762.48 270.30 L762.96 269.89 L763.44 269.48 L763.92 269.07 L764.40 268.66 L764.88 268.26 L765.36 267.86 L765.84 267.46 L766.32 267.07 L766.80 266.67 L767.28 266.29 L767.76 265.90 L768.24 265.51 L768.71 265.13 L769.19 264.75 L769.67 264.38 L770.15 264.00 L770.63 263.63 L771.11 263.26 L771.59 262.89 L772.07 262.53 L772.55 262.17 L773.03 261.81 L773.51 261.45 L773.99 261.09 L774.47 260.74 L774.95 260.39 L775.42 260.04 L775.90 259.69 L776.38 259.35 L776.86 259.01 L777.34 258.67 L777.82 258.33 L778.30 257.99 L778.78 257.66 L779.26 257.33 L779.74 257.00 L780.22 256.67 L780.70 256.35 L781.18 256.02 L781.65 255.70 L782.13 255.38 L782.61 255.06 L783.09 254.75 L783.57 254.43 L784.05 254.12 L784.53 253.81 L785.01 253.50 L785.49 253.20 L785.97 252.89 L786.45 252.59 L786.93 252.29 L787.41 251.99 L787.88 251.69 L788.36 251.40 L788.84 251.10 L789.32 250.81 L789.80 250.52 L790.28 250.23 L790.76 249.94 L791.24 249.65 L791.72 249.37 L792.20 249.09 L792.68 248.81 L793.16 248.53 L793.64 248.25 L794.12 247.97 L794.59 247.70 L795.07 247.42 L795.55 247.15 L796.03 246.88 L796.51 246.61 L796.99 246.34 L797.47 246.07 L797.95 245.81 L798.43 245.55 L798.91 245.28 L799.39 245.02 L799.87 244.76 L800.35 244.50 L800.82 244.25 L801.30 243.99 L801.78 243.74 L802.26 243.48 L802.74 243.23 L803.22 242.98 L803.70 242.73 L804.70 242.21" stroke="#ff0000" stroke-width="2.3" stroke-dasharray="4.9 2.8"/>
<path d="M611.00 325.93 L612.00 325.93 L612.48 325.93 L612.96 325.93 L613.44 325.92 L613.92 325.92 L614.40 325.91 L614.88 325.91 L615.35 325.90 L615.83 325.89 L616.31 325.88 L616.79 325.87 L617.27 325.86 L617.75 325.84 L618.23 325.83 L618.71 325.81 L619.19 325.80 L619.67 325.78 L620.15 325.76 L620.63 325.74 L621.11 325.72 L621.59 325.69 L622.06 325.67 L622.54 325.65 L623.02 325.62 L623.50 325.59 L623.98 325.56 L624.46 325.53 L624.94 325.50 L625.42 325.47 L625.90 325.44 L626.38 325.40 L626.86 325.37 L627.34 325.33 L627.82 325.29 L628.29 325.25 L628.77 325.21 L629.25 325.17 L629.73 325.13 L630.21 325.09 L630.69 325.04 L631.17 325.00 L631.65 324.95 L632.13 324.90 L632.61 324.85 L633.09 324.80 L633.57 324.75 L634.05 324.70 L634.52 324.64 L635.00 324.59 L635.48 324.53 L635.96 324.48 L636.44 324.42 L636.92 324.36 L637.40 324.30 L637.88 324.24 L638.36 324.17 L638.84 324.11 L639.32 324.05 L639.80 323.98 L640.28 323.91 L640.75 323.85 L641.23 323.78 L641.71 323.71 L642.19 323.64 L642.67 323.57 L643.15 323.49 L643.63 323.42 L644.11 323.35 L644.59 323.27 L645.07 323.19 L645.55 323.12 L646.03 323.04 L646.51 322.96 L646.99 322.88 L647.46 322.79 L647.94 322.71 L648.42 322.63 L648.90 322.54 L649.38 322.46 L649.86 322.37 L650.34 322.29 L650.82 322.20 L651.30 322.11 L651.78 322.02 L652.26 321.93 L652.74 321.84 L653.22 321.75 L653.69 321.66 L654.17 321.56 L654.65 321.47 L655.13 321.37 L655.61 321.28 L656.09 321.18 L656.57 321.08 L657.05 320.99 L657.53 320.89 L658.01 320.79 L658.49 320.69 L658.97 320.59 L659.45 320.49 L659.92 320.39 L660.40 320.29 L660.88 320.18 L661.36 320.08 L661.84 319.98 L662.32 319.88 L662.80 319.77 L663.28 319.67 L663.76 319.56 L664.24 319.46 L664.72 319.35 L665.20 319.25 L665.68 319.14 L666.16 319.04 L666.63 318.93 L667.11 318.83 L667.59 318.72 L668.07 318.62 L668.55 318.51 L669.03 318.41 L669.51 318.30 L669.99 318.20 L670.47 318.09 L670.95 317.99 L671.43 317.88 L671.91 317.78 L672.39 317.68 L672.86 317.57 L673.34 317.47 L673.82 317.37 L674.30 317.27 L674.78 317.17 L675.26 317.07 L675.74 316.97 L676.22 316.87 L676.70 316.77 L677.18 316.68 L677.66 316.58 L678.14 316.49 L678.62 316.40 L679.10 316.31 L679.57 316.22 L680.05 316.13 L680.53 316.04 L681.01 315.96 L681.49 315.87 L681.97 315.79 L682.45 315.71 L682.93 315.63 L683.41 315.56 L683.89 315.48 L684.37 315.41 L684.85 315.34 L685.33 315.27 L685.80 315.21 L686.28 315.14 L686.76 315.08 L687.24 315.02 L687.72 314.97 L688.20 314.91 L688.68 314.86 L689.16 314.82 L689.64 314.77 L690.12 314.73 L690.60 314.69 L691.08 314.65 L691.56 314.61 L692.03 314.58 L692.51 314.55 L692.99 314.52 L693.47 314.50 L693.95 314.48 L694.43 314.46 L694.91 314.44 L695.39 314.42 L695.87 314.41 L696.35 314.40 L696.83 314.39 L697.31 314.38 L697.79 314.37 L698.26 314.37 L698.74 314.36 L699.22 314.36 L699.70 314.36 L700.18 314.35 L700.66 314.35 L701.14 314.35 L701.62 314.35 L702.10 314.35 L702.58 314.35 L703.06 314.35 L703.54 314.35 L704.02 314.35 L704.50 314.35 L704.97 314.35 L705.45 314.35 L705.93 314.35 L706.41 314.35 L706.89 314.35 L707.37 314.35 L707.85 314.35 L708.33 314.35 L708.81 314.35 L709.29 314.35 L709.77 314.35 L710.25 314.35 L710.73 314.35 L711.20 314.35 L711.68 314.35 L712.16 314.35 L712.64 314.35 L713.12 314.35 L713.60 314.35 L714.08 314.35 L714.56 314.36 L715.04 314.36 L715.52 314.37 L716.00 314.38 L716.48 314.39 L716.96 314.40 L717.44 314.42 L717.91 314.44 L718.39 314.46 L718.87 314.49 L719.35 314.53 L719.83 314.57 L720.31 314.62 L720.79 314.67 L721.27 314.74 L721.75 314.81 L722.23 314.88 L722.71 314.97 L723.19 315.07 L723.67 315.17 L724.14 315.28 L724.62 315.41 L725.10 315.54 L725.58 315.68 L726.06 315.83 L726.54 315.99 L727.02 316.16 L727.50 316.34 L727.98 316.53 L728.46 316.73 L728.94 316.94 L729.42 317.16 L729.90 317.38 L730.37 317.62 L730.85 317.86 L731.33 318.12 L731.81 318.38 L732.29 318.65 L732.77 318.93 L733.25 319.22 L733.73 319.51 L734.21 319.82 L734.69 320.13 L735.17 320.45 L735.65 320.77 L736.13 321.10 L736.61 321.44 L737.08 321.79 L737.56 322.14 L738.04 322.50 L738.52 322.86 L739.00 323.23 L739.48 323.61 L739.96 323.99 L740.44 324.38 L740.92 324.77 L741.40 325.16 L741.88 325.56 L742.36 325.97 L742.84 326.38 L743.31 326.79 L743.79 327.21 L744.27 327.63 L744.75 328.06 L745.23 328.49 L745.71 328.92 L746.19 329.36 L746.67 329.79 L747.15 330.24 L747.63 330.68 L748.11 331.13 L748.59 331.58 L749.07 332.03 L749.54 332.49 L750.02 332.94 L750.50 333.40 L750.98 333.86 L751.46 334.33 L751.94 334.79 L752.42 335.26 L752.90 335.73 L753.38 336.20 L753.86 336.67 L754.34 337.14 L754.82 337.62 L755.30 338.09 L755.78 338.57 L756.25 339.05 L756.73 339.52 L757.21 340.00 L757.69 340.48 L758.17 340.96 L758.65 341.45 L759.13 341.93 L759.61 342.41 L760.09 342.90 L760.57 343.38 L761.05 343.86 L761.53 344.35 L762.01 344.83 L762.48 345.32 L762.96 345.80 L763.44 346.29 L763.92 346.77 L764.40 347.26 L764.88 347.75 L765.36 348.23 L765.84 348.72 L766.32 349.20 L766.80 349.69 L767.28 350.17 L767.76 350.66 L768.24 351.14 L768.71 351.63 L769.19 352.11 L769.67 352.59 L770.15 353.08 L770.63 353.56 L771.11 354.04 L771.59 354.53 L772.07 355.01 L772.55 355.49 L773.03 355.97 L773.51 356.45 L773.99 356.93 L774.47 357.41 L774.95 357.89 L775.42 358.37 L775.90 358.84 L776.38 359.32 L776.86 359.80 L777.34 360.27 L777.82 360.75 L778.30 361.22 L778.78 361.69 L779.26 362.17 L779.74 362.64 L780.22 363.11 L780.70 363.58 L781.18 364.05 L781.65 364.52 L782.13 364.98 L782.61 365.45 L783.09 365.92 L783.57 366.38 L784.05 366.85 L784.53 367.31 L785.01 367.77 L785.49 368.23 L785.97 368.69 L786.45 369.15 L786.93 369.61 L787.41 370.07 L787.88 370.53 L788.36 370.99 L788.84 371.44 L789.32 371.90 L789.80 372.35 L790.28 372.80 L790.76 373.25 L791.24 373.70 L791.72 374.15 L792.20 374.60 L792.68 375.05 L793.16 375.50 L793.64 375.94 L794.12 376.39 L794.59 376.83 L795.07 377.28 L795.55 377.72 L796.03 378.16 L796.51 378.60 L796.99 379.04 L797.47 379.48 L797.95 379.91 L798.43 380.35 L798.91 380.79 L799.39 381.22 L799.87 381.65 L800.35 382.08 L800.82 382.52 L801.30 382.95 L801.78 383.38 L802.26 383.80 L802.74 384.23 L803.22 384.66 L803.70 385.08 L804.70 385.97" stroke="#000084" stroke-width="2.3" stroke-dasharray="11.7 2.8"/>
</g>
<path d="M612.00 389.4 v-3.0 M612.00 239.4 v3.0 M621.59 389.4 v-2.0 M621.59 239.4 v2.0 M631.17 389.4 v-2.0 M631.17 239.4 v2.0 M640.75 389.4 v-2.0 M640.75 239.4 v2.0 M650.34 389.4 v-2.0 M650.34 239.4 v2.0 M659.92 389.4 v-3.0 M659.92 239.4 v3.0 M669.51 389.4 v-2.0 M669.51 239.4 v2.0 M679.10 389.4 v-2.0 M679.10 239.4 v2.0 M688.68 389.4 v-2.0 M688.68 239.4 v2.0 M698.26 389.4 v-2.0 M698.26 239.4 v2.0 M707.85 389.4 v-3.0 M707.85 239.4 v3.0 M717.44 389.4 v-2.0 M717.44 239.4 v2.0 M727.02 389.4 v-2.0 M727.02 239.4 v2.0 M736.61 389.4 v-2.0 M736.61 239.4 v2.0 M746.19 389.4 v-2.0 M746.19 239.4 v2.0 M755.78 389.4 v-3.0 M755.78 239.4 v3.0 M765.36 389.4 v-2.0 M765.36 239.4 v2.0 M774.95 389.4 v-2.0 M774.95 239.4 v2.0 M784.53 389.4 v-2.0 M784.53 239.4 v2.0 M794.12 389.4 v-2.0 M794.12 239.4 v2.0 M803.70 389.4 v-3.0 M803.70 239.4 v3.0 M608.1 383.59 h2.0 M807.8 383.59 h-2.0 M608.1 375.90 h3.0 M807.8 375.90 h-3.0 M608.1 368.21 h2.0 M807.8 368.21 h-2.0 M608.1 360.51 h2.0 M807.8 360.51 h-2.0 M608.1 352.82 h2.0 M807.8 352.82 h-2.0 M608.1 345.12 h3.0 M807.8 345.12 h-3.0 M608.1 337.43 h2.0 M807.8 337.43 h-2.0 M608.1 329.74 h2.0 M807.8 329.74 h-2.0 M608.1 322.04 h2.0 M807.8 322.04 h-2.0 M608.1 314.35 h3.0 M807.8 314.35 h-3.0 M608.1 306.66 h2.0 M807.8 306.66 h-2.0 M608.1 298.96 h2.0 M807.8 298.96 h-2.0 M608.1 291.27 h2.0 M807.8 291.27 h-2.0 M608.1 283.57 h3.0 M807.8 283.57 h-3.0 M608.1 275.88 h2.0 M807.8 275.88 h-2.0 M608.1 268.19 h2.0 M807.8 268.19 h-2.0 M608.1 260.49 h2.0 M807.8 260.49 h-2.0 M608.1 252.80 h3.0 M807.8 252.80 h-3.0 M608.1 245.11 h2.0 M807.8 245.11 h-2.0" stroke="#1c1c1c" stroke-width="0.95" fill="none"/>
<rect x="608.1" y="239.4" width="199.70" height="150.00" fill="none" stroke="#1c1c1c" stroke-width="1.15"/>
<g font-family="Liberation Serif, serif" font-size="18" fill="#000"><text x="605.1" y="380.70" text-anchor="end">0.96</text><text x="605.1" y="349.93" text-anchor="end">0.98</text><text x="605.1" y="319.15" text-anchor="end">1.00</text><text x="605.1" y="288.38" text-anchor="end">1.02</text><text x="605.1" y="257.60" text-anchor="end">1.04</text><text x="612.00" y="405.90" text-anchor="middle">0</text><text x="659.92" y="405.90" text-anchor="middle">5</text><text x="707.85" y="405.90" text-anchor="middle">10</text><text x="755.78" y="405.90" text-anchor="middle">15</text><text x="803.70" y="405.90" text-anchor="middle">20</text></g>
<text x="707.95" y="431.30" text-anchor="middle" font-family="Liberation Serif, serif" font-size="18" fill="#000">r [fm]</text>
<text transform="translate(14.3,106.5) rotate(-90)" text-anchor="middle" font-family="Liberation Serif, serif" font-size="19" fill="#000"><tspan font-style="italic">T</tspan><tspan dx="1.2">/</tspan><tspan font-style="italic" dx="1.2">T</tspan><tspan font-size="13.7" dy="2.9">0</tspan></text>
<text transform="translate(14.2,316.8) rotate(-90)" text-anchor="middle" font-family="Liberation Serif, serif" font-size="19" fill="#000"><tspan font-style="italic">T</tspan><tspan font-size="13.7" dy="2.9">kinetic</tspan><tspan dy="-2.9" dx="-1.0">/</tspan><tspan font-style="italic" dx="-0.8">T</tspan><tspan font-size="13.7" dy="2.9">hydro</tspan></text>
<path d="M126.6 45.3 H171.0" stroke="#000000" stroke-width="2.6" fill="none"/>
<text x="177.0" y="48.599999999999994" font-family="Liberation Serif, serif" font-size="12.5" fill="#000">Kinetic Exact</text>
<path d="M127.0 68.5 H170.6" stroke="#ff0000" stroke-width="2.25" stroke-dasharray="4.9 2.8" fill="none"/>
<text x="177.0" y="71.8" font-family="Liberation Serif, serif" font-size="12.5" fill="#000">IS Hydro</text>
<path d="M127.0 91.9 H167.8" stroke="#000084" stroke-width="2.25" stroke-dasharray="11.7 2.8" fill="none"/>
<text x="177.0" y="95.2" font-family="Liberation Serif, serif" font-size="12.5" fill="#000">DNMR Hydro</text>
<path d="M127.0 115.3 H166.7" stroke="#008000" stroke-width="2.25" stroke-dasharray="11.7 2.8 4 2.8" fill="none"/>
<text x="177.0" y="118.6" font-family="Liberation Serif, serif" font-size="12.5" fill="#000">Ideal Hydro</text>
</svg>
</body></html>
